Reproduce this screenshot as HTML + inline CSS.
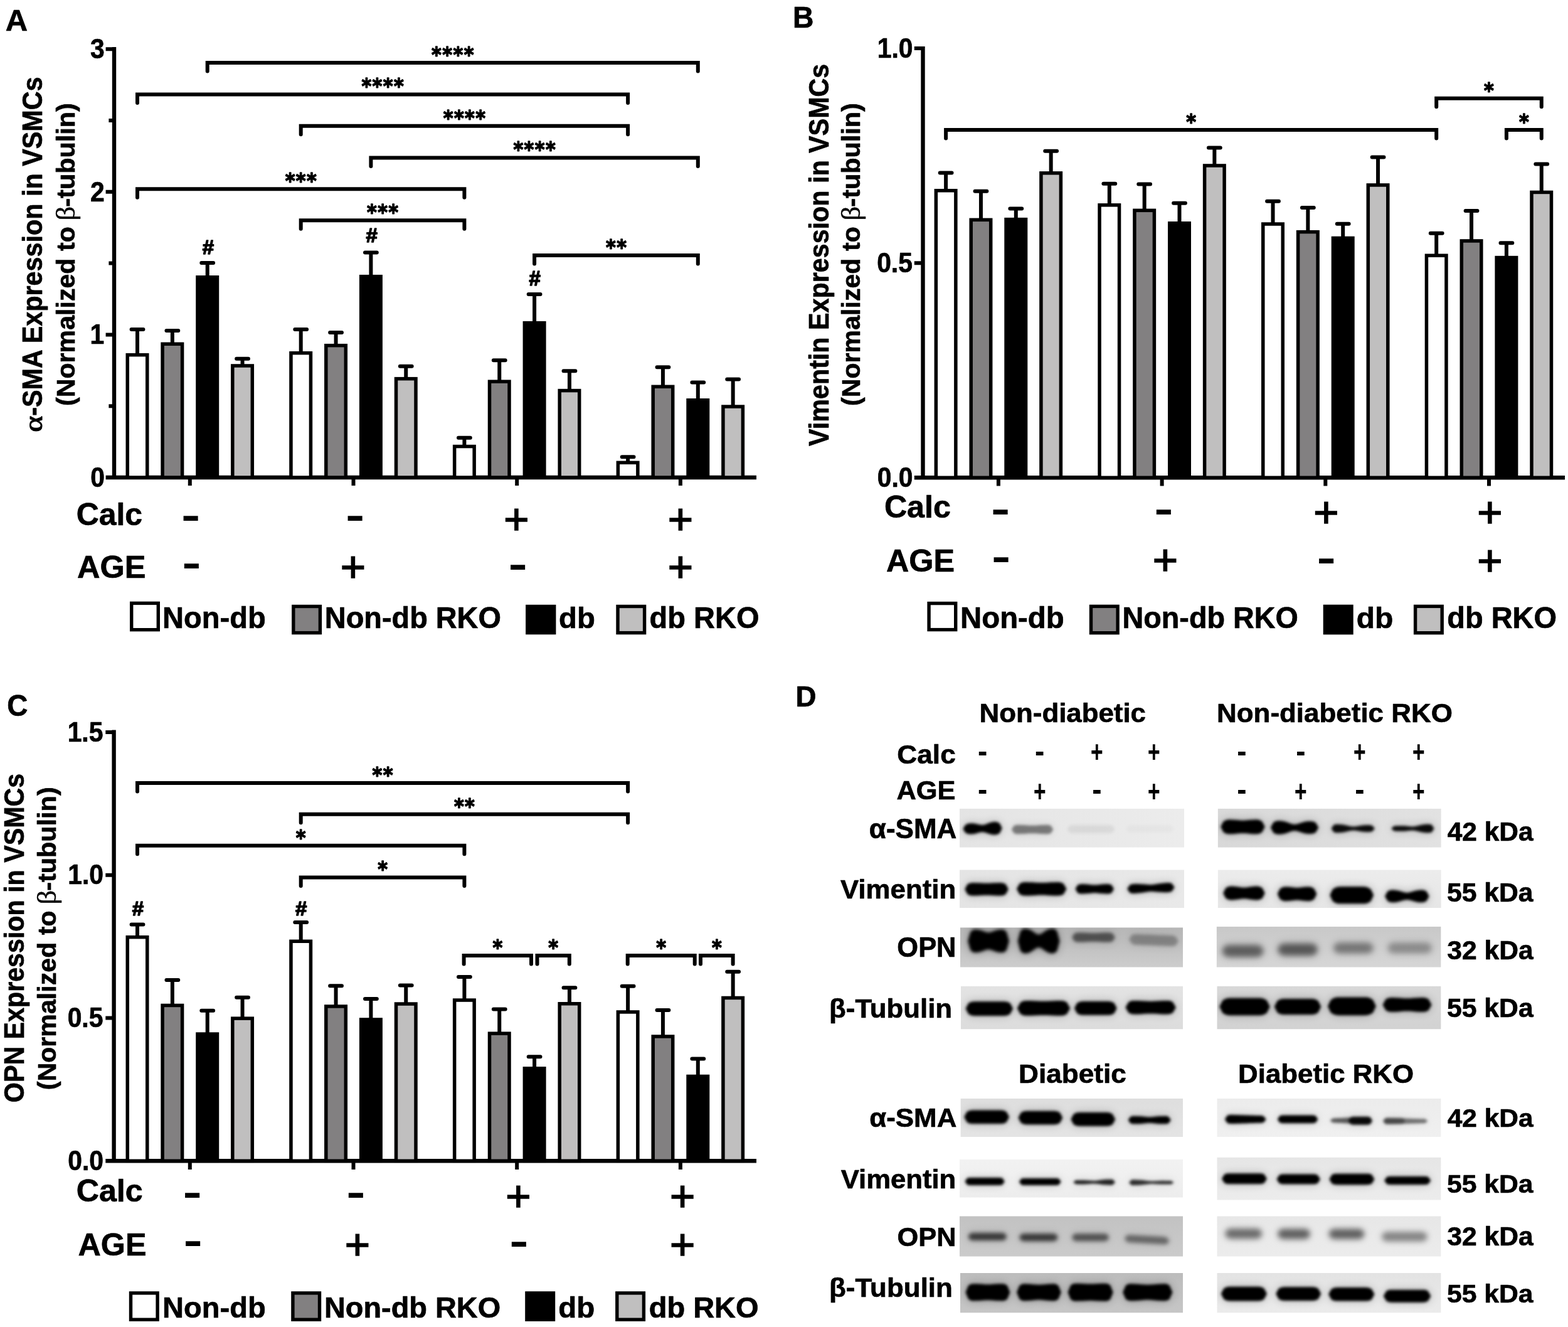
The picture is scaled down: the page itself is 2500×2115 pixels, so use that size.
<!DOCTYPE html>
<html lang="en">
<head>
<meta charset="utf-8">
<title>Figure: α-SMA, Vimentin and OPN expression in VSMCs</title>
<style>
html,body{margin:0;padding:0;background:#fff}
body{width:2500px;height:2115px;overflow:hidden;font-family:"Liberation Sans",sans-serif}
svg{display:block}
text{fill:#000}
</style>
</head>
<body>
<svg width="2500" height="2115" viewBox="0 0 2500 2115">
<defs>
<filter id="b20" x="-10%" y="-60%" width="120%" height="220%"><feGaussianBlur stdDeviation="2"/></filter>
<filter id="b24" x="-10%" y="-60%" width="120%" height="220%"><feGaussianBlur stdDeviation="2.4"/></filter>
<filter id="b30" x="-10%" y="-60%" width="120%" height="220%"><feGaussianBlur stdDeviation="3"/></filter>
<filter id="b40" x="-10%" y="-60%" width="120%" height="220%"><feGaussianBlur stdDeviation="4"/></filter>
<filter id="bh" x="-10%" y="-100%" width="120%" height="300%"><feGaussianBlur stdDeviation="7"/></filter>
<linearGradient id="g0" x1="0" y1="0" x2="1" y2="0"><stop offset="0" stop-color="#e4e4e4"/><stop offset="1" stop-color="#ececec"/></linearGradient><clipPath id="c0"><rect x="1530" y="1288.7" width="358" height="62.1"/></clipPath><linearGradient id="g1" x1="0" y1="0" x2="1" y2="0"><stop offset="0" stop-color="#e4e4e4"/><stop offset="1" stop-color="#e9e9e9"/></linearGradient><clipPath id="c1"><rect x="1530" y="1386.3" width="358" height="60.9"/></clipPath><linearGradient id="g2" x1="0" y1="0" x2="0" y2="1"><stop offset="0" stop-color="#b6b6b6"/><stop offset="1" stop-color="#cdcdcd"/></linearGradient><clipPath id="c2"><rect x="1531" y="1478.2" width="355.1" height="63.5"/></clipPath><linearGradient id="g3" x1="0" y1="0" x2="0" y2="1"><stop offset="0" stop-color="#e3e3e3"/><stop offset="1" stop-color="#dcdcdc"/></linearGradient><clipPath id="c3"><rect x="1531.9" y="1571.7" width="354.2" height="68.8"/></clipPath><linearGradient id="g4" x1="0" y1="0" x2="1" y2="0"><stop offset="0" stop-color="#d8d8d8"/><stop offset="1" stop-color="#e2e2e2"/></linearGradient><clipPath id="c4"><rect x="1941.6" y="1288.7" width="356.2" height="62.1"/></clipPath><linearGradient id="g5" x1="0" y1="0" x2="0" y2="1"><stop offset="0" stop-color="#ececec"/><stop offset="1" stop-color="#e6e6e6"/></linearGradient><clipPath id="c5"><rect x="1941.6" y="1386.3" width="356.2" height="60.9"/></clipPath><linearGradient id="g6" x1="0" y1="0" x2="0" y2="1"><stop offset="0" stop-color="#c8c8c8"/><stop offset="1" stop-color="#d6d6d6"/></linearGradient><clipPath id="c6"><rect x="1939.6" y="1476.7" width="358" height="65"/></clipPath><linearGradient id="g7" x1="0" y1="0" x2="0" y2="1"><stop offset="0" stop-color="#d8d8d8"/><stop offset="1" stop-color="#d2d2d2"/></linearGradient><clipPath id="c7"><rect x="1940.3" y="1571.7" width="357.3" height="68.8"/></clipPath><linearGradient id="g8" x1="0" y1="0" x2="0" y2="1"><stop offset="0" stop-color="#dedede"/><stop offset="1" stop-color="#e4e4e4"/></linearGradient><clipPath id="c8"><rect x="1531.4" y="1750.8" width="354.7" height="61.2"/></clipPath><linearGradient id="g9" x1="0" y1="0" x2="0" y2="1"><stop offset="0" stop-color="#f2f2f2"/><stop offset="1" stop-color="#ededed"/></linearGradient><clipPath id="c9"><rect x="1529.9" y="1847.7" width="356.2" height="61"/></clipPath><linearGradient id="g10" x1="0" y1="0" x2="0" y2="1"><stop offset="0" stop-color="#c2c2c2"/><stop offset="1" stop-color="#cbcbcb"/></linearGradient><clipPath id="c10"><rect x="1529.9" y="1938.3" width="356.2" height="64.4"/></clipPath><linearGradient id="g11" x1="0" y1="0" x2="0" y2="1"><stop offset="0" stop-color="#bcbcbc"/><stop offset="1" stop-color="#c6c6c6"/></linearGradient><clipPath id="c11"><rect x="1530.9" y="2029" width="355.2" height="63.5"/></clipPath><linearGradient id="g12" x1="0" y1="0" x2="0" y2="1"><stop offset="0" stop-color="#ececec"/><stop offset="1" stop-color="#f0f0f0"/></linearGradient><clipPath id="c12"><rect x="1940.3" y="1750.8" width="357.3" height="61.2"/></clipPath><linearGradient id="g13" x1="0" y1="0" x2="0" y2="1"><stop offset="0" stop-color="#e6e6e6"/><stop offset="1" stop-color="#ececec"/></linearGradient><clipPath id="c13"><rect x="1940.3" y="1844.6" width="357.3" height="68.1"/></clipPath><linearGradient id="g14" x1="0" y1="0" x2="0" y2="1"><stop offset="0" stop-color="#e7e7e7"/><stop offset="1" stop-color="#ececec"/></linearGradient><clipPath id="c14"><rect x="1940.3" y="1938.3" width="357.3" height="64.4"/></clipPath><linearGradient id="g15" x1="0" y1="0" x2="0" y2="1"><stop offset="0" stop-color="#e3e3e3"/><stop offset="1" stop-color="#ebebeb"/></linearGradient><clipPath id="c15"><rect x="1940.3" y="2029" width="357.3" height="63.5"/></clipPath></defs>

<rect width="2500" height="2115" fill="#fff"/>
<text transform="translate(8.64,48.73) scale(0.4902,0.4838)" font-size="100" font-family="Liberation Sans, sans-serif" font-weight="bold" stroke="#000" stroke-width="1.44" stroke-linejoin="round">A</text>
<text transform="translate(67.19,688.7) rotate(-90) scale(0.4965,0.4083)" font-size="100" font-family="Liberation Serif, serif" stroke="#000" stroke-width="2.67" stroke-linejoin="round">α</text>
<text transform="translate(67.45,662.86) rotate(-90) scale(0.4134,0.4348)" font-size="100" font-family="Liberation Sans, sans-serif" font-weight="bold" stroke="#000" stroke-width="1.65" stroke-linejoin="round">-SMA Expression in VSMCs</text>
<text transform="translate(118.65,647.01) rotate(-90) scale(0.4115,0.4157)" font-size="100" font-family="Liberation Sans, sans-serif" font-weight="bold" stroke="#000" stroke-width="1.69" stroke-linejoin="round">(Normalized to</text>
<text transform="translate(118.88,351.65) rotate(-90) scale(0.4505,0.4176)" font-size="100" font-family="Liberation Serif, serif" stroke="#000" stroke-width="1.15" stroke-linejoin="round">β</text>
<text transform="translate(118.65,329.67) rotate(-90) scale(0.4142,0.4157)" font-size="100" font-family="Liberation Sans, sans-serif" font-weight="bold" stroke="#000" stroke-width="1.69" stroke-linejoin="round">-tubulin)</text>
<path d="M182 74.9V764.2M168.6 761H1206" stroke="#000" stroke-width="6.4" fill="none"/>
<path d="M168.6 533.38H182M168.6 305.77H182M168.6 78.15H182M173.4 647.19H182M173.4 419.57H182M173.4 191.96H182M302.8 761V774M563.5 761V774M824.2 761V774M1084.9 761V774" stroke="#000" stroke-width="6" fill="none"/>
<text transform="translate(144.13,775.78) scale(0.408,0.44)" font-size="100" font-family="Liberation Sans, sans-serif" font-weight="bold" stroke="#000" stroke-width="1.65" stroke-linejoin="round">0</text>
<text transform="translate(143.6,548.16) scale(0.408,0.44)" font-size="100" font-family="Liberation Sans, sans-serif" font-weight="bold" stroke="#000" stroke-width="1.65" stroke-linejoin="round">1</text>
<text transform="translate(144.09,320.55) scale(0.408,0.44)" font-size="100" font-family="Liberation Sans, sans-serif" font-weight="bold" stroke="#000" stroke-width="1.65" stroke-linejoin="round">2</text>
<text transform="translate(143.93,92.93) scale(0.408,0.44)" font-size="100" font-family="Liberation Sans, sans-serif" font-weight="bold" stroke="#000" stroke-width="1.65" stroke-linejoin="round">3</text>
<rect x="203.25" y="565.65" width="31.5" height="195.35" fill="#ffffff" stroke="#000" stroke-width="5.5"/>
<rect x="259.1" y="548.25" width="31.5" height="212.75" fill="#828081" stroke="#000" stroke-width="5.5"/>
<rect x="314.95" y="441.75" width="31.5" height="319.25" fill="#000000" stroke="#000" stroke-width="5.5"/>
<rect x="370.8" y="582.95" width="31.5" height="178.05" fill="#c0bfbf" stroke="#000" stroke-width="5.5"/>
<rect x="463.95" y="562.65" width="31.5" height="198.35" fill="#ffffff" stroke="#000" stroke-width="5.5"/>
<rect x="519.8" y="550.65" width="31.5" height="210.35" fill="#828081" stroke="#000" stroke-width="5.5"/>
<rect x="575.65" y="440.65" width="31.5" height="320.35" fill="#000000" stroke="#000" stroke-width="5.5"/>
<rect x="631.5" y="603.65" width="31.5" height="157.35" fill="#c0bfbf" stroke="#000" stroke-width="5.5"/>
<rect x="724.65" y="711.55" width="31.5" height="49.45" fill="#ffffff" stroke="#000" stroke-width="5.5"/>
<rect x="780.5" y="608.15" width="31.5" height="152.85" fill="#828081" stroke="#000" stroke-width="5.5"/>
<rect x="836.35" y="514.65" width="31.5" height="246.35" fill="#000000" stroke="#000" stroke-width="5.5"/>
<rect x="892.2" y="622.55" width="31.5" height="138.45" fill="#c0bfbf" stroke="#000" stroke-width="5.5"/>
<rect x="985.35" y="737.35" width="31.5" height="23.65" fill="#ffffff" stroke="#000" stroke-width="5.5"/>
<rect x="1041.2" y="616.25" width="31.5" height="144.75" fill="#828081" stroke="#000" stroke-width="5.5"/>
<rect x="1097.05" y="637.75" width="31.5" height="123.25" fill="#000000" stroke="#000" stroke-width="5.5"/>
<rect x="1152.9" y="648.05" width="31.5" height="112.95" fill="#c0bfbf" stroke="#000" stroke-width="5.5"/>
<path d="M219 563.9V525M209.6 525H228.4M274.85 546.5V526.9M265.45 526.9H284.25M330.7 440V419M321.3 419H340.1M386.55 581.2V571.8M377.15 571.8H395.95M479.7 560.9V525M470.3 525H489.1M535.55 548.9V529.9M526.15 529.9H544.95M591.4 438.9V402.5M582 402.5H600.8M647.25 601.9V583.8M637.85 583.8H656.65M740.4 709.8V697.7M731 697.7H749.8M796.25 606.4V574.2M786.85 574.2H805.65M852.1 512.9V469M842.7 469H861.5M907.95 620.8V591.3M898.55 591.3H917.35M1001.1 735.6V728.3M991.7 728.3H1010.5M1056.95 614.5V585.3M1047.55 585.3H1066.35M1112.8 636V609.6M1103.4 609.6H1122.2M1168.65 646.3V604.5M1159.25 604.5H1178.05" stroke="#000" stroke-width="6" stroke-linecap="round" fill="none"/>
<path d="M330.7 113.6V100.1H1112.8V113.6M219 163.9V150.4H1001.1V163.9M479.7 214.3V200.8H1001.1V214.3M591.4 264.9V251.4H1112.8V264.9M219 314.7V301.2H740.4V314.7M479.7 364.8V351.3H740.4V364.8M852.1 420.5V407H1112.8V420.5" stroke="#000" stroke-width="6" stroke-linecap="round" stroke-linejoin="miter" fill="none"/>
<text transform="translate(688.09,99) scale(0.302,0.3321)" font-size="100" font-family="DejaVu Sans, sans-serif" font-weight="bold" stroke="#000" stroke-width="4.42" stroke-linejoin="round" letter-spacing="4.6">****</text>
<text transform="translate(576.39,149.3) scale(0.302,0.3321)" font-size="100" font-family="DejaVu Sans, sans-serif" font-weight="bold" stroke="#000" stroke-width="4.42" stroke-linejoin="round" letter-spacing="4.6">****</text>
<text transform="translate(706.74,199.7) scale(0.302,0.3321)" font-size="100" font-family="DejaVu Sans, sans-serif" font-weight="bold" stroke="#000" stroke-width="4.42" stroke-linejoin="round" letter-spacing="4.6">****</text>
<text transform="translate(818.44,250.3) scale(0.302,0.3321)" font-size="100" font-family="DejaVu Sans, sans-serif" font-weight="bold" stroke="#000" stroke-width="4.42" stroke-linejoin="round" letter-spacing="4.6">****</text>
<text transform="translate(454.63,300.1) scale(0.302,0.3321)" font-size="100" font-family="DejaVu Sans, sans-serif" font-weight="bold" stroke="#000" stroke-width="4.42" stroke-linejoin="round" letter-spacing="4.6">***</text>
<text transform="translate(584.98,350.2) scale(0.302,0.3321)" font-size="100" font-family="DejaVu Sans, sans-serif" font-weight="bold" stroke="#000" stroke-width="4.42" stroke-linejoin="round" letter-spacing="4.6">***</text>
<text transform="translate(965.96,405.9) scale(0.302,0.3321)" font-size="100" font-family="DejaVu Sans, sans-serif" font-weight="bold" stroke="#000" stroke-width="4.42" stroke-linejoin="round" letter-spacing="4.6">**</text>
<text transform="translate(322.81,404.67) scale(0.33,0.3198)" font-size="100" font-family="Liberation Sans, sans-serif" font-weight="bold" stroke="#000" stroke-width="4.62" stroke-linejoin="round">#</text>
<text transform="translate(583.51,386.47) scale(0.33,0.3183)" font-size="100" font-family="Liberation Sans, sans-serif" font-weight="bold" stroke="#000" stroke-width="4.63" stroke-linejoin="round">#</text>
<text transform="translate(843.41,455.37) scale(0.33,0.3241)" font-size="100" font-family="Liberation Sans, sans-serif" font-weight="bold" stroke="#000" stroke-width="4.59" stroke-linejoin="round">#</text>
<text transform="translate(121.7,836.95) scale(0.4987,0.498)" font-size="100" font-family="Liberation Sans, sans-serif" font-weight="bold" stroke="#000" stroke-width="1.4" stroke-linejoin="round">Calc</text>
<text transform="translate(122.99,921.36) scale(0.5059,0.493)" font-size="100" font-family="Liberation Sans, sans-serif" font-weight="bold" stroke="#000" stroke-width="1.4" stroke-linejoin="round">AGE</text>
<text transform="translate(289,843.08) scale(0.91,0.655)" font-size="100" font-family="Liberation Sans, sans-serif" font-weight="bold">-</text>
<text transform="translate(290.3,919.33) scale(0.91,0.655)" font-size="100" font-family="Liberation Sans, sans-serif" font-weight="bold">-</text>
<text transform="translate(551,843.08) scale(0.91,0.655)" font-size="100" font-family="Liberation Sans, sans-serif" font-weight="bold">-</text>
<text transform="translate(542.67,926.96) scale(0.69,0.69)" font-size="100" font-family="Liberation Sans, sans-serif" stroke-linejoin="miter" stroke="#000" stroke-width="2.42">+</text>
<text transform="translate(803.27,850.86) scale(0.69,0.69)" font-size="100" font-family="Liberation Sans, sans-serif" stroke-linejoin="miter" stroke="#000" stroke-width="2.42">+</text>
<text transform="translate(810.4,921.23) scale(0.91,0.655)" font-size="100" font-family="Liberation Sans, sans-serif" font-weight="bold">-</text>
<text transform="translate(1064.87,850.86) scale(0.69,0.69)" font-size="100" font-family="Liberation Sans, sans-serif" stroke-linejoin="miter" stroke="#000" stroke-width="2.42">+</text>
<text transform="translate(1064.87,927.16) scale(0.69,0.69)" font-size="100" font-family="Liberation Sans, sans-serif" stroke-linejoin="miter" stroke="#000" stroke-width="2.42">+</text>
<rect x="209.7" y="961.4" width="42.6" height="42.3" fill="#ffffff" stroke="#000" stroke-width="5.4"/>
<rect x="467.8" y="966.5" width="42.6" height="42.1" fill="#828081" stroke="#000" stroke-width="5.4"/>
<rect x="840.8" y="966.5" width="42.9" height="42.1" fill="#000000" stroke="#000" stroke-width="5.4"/>
<rect x="985" y="966.5" width="42.6" height="42.1" fill="#c0bfbf" stroke="#000" stroke-width="5.4"/>
<text transform="translate(259.1,1000.95) scale(0.4708,0.4747)" font-size="100" font-family="Liberation Sans, sans-serif" font-weight="bold" stroke="#000" stroke-width="1.48" stroke-linejoin="round">Non-db</text>
<text transform="translate(517.81,1000.95) scale(0.4688,0.4747)" font-size="100" font-family="Liberation Sans, sans-serif" font-weight="bold" stroke="#000" stroke-width="1.48" stroke-linejoin="round">Non-db RKO</text>
<text transform="translate(891.11,1000.98) scale(0.472,0.4667)" font-size="100" font-family="Liberation Sans, sans-serif" font-weight="bold" stroke="#000" stroke-width="1.49" stroke-linejoin="round">db</text>
<text transform="translate(1035.61,1000.95) scale(0.47,0.4747)" font-size="100" font-family="Liberation Sans, sans-serif" font-weight="bold" stroke="#000" stroke-width="1.48" stroke-linejoin="round">db RKO</text>
<text transform="translate(1263.95,44.35) scale(0.4625,0.4783)" font-size="100" font-family="Liberation Sans, sans-serif" font-weight="bold" stroke="#000" stroke-width="1.49" stroke-linejoin="round">B</text>
<text transform="translate(1320.75,710.97) rotate(-90) scale(0.4128,0.4362)" font-size="100" font-family="Liberation Sans, sans-serif" font-weight="bold" stroke="#000" stroke-width="1.65" stroke-linejoin="round">Vimentin Expression in VSMCs</text>
<text transform="translate(1370.85,647.01) rotate(-90) scale(0.4115,0.4157)" font-size="100" font-family="Liberation Sans, sans-serif" font-weight="bold" stroke="#000" stroke-width="1.69" stroke-linejoin="round">(Normalized to</text>
<text transform="translate(1371.08,351.65) rotate(-90) scale(0.4505,0.4176)" font-size="100" font-family="Liberation Serif, serif" stroke="#000" stroke-width="1.15" stroke-linejoin="round">β</text>
<text transform="translate(1370.85,329.67) rotate(-90) scale(0.4142,0.4157)" font-size="100" font-family="Liberation Sans, sans-serif" font-weight="bold" stroke="#000" stroke-width="1.69" stroke-linejoin="round">-tubulin)</text>
<path d="M1471.5 74V764.5M1457.8 761.3H2495" stroke="#000" stroke-width="6.4" fill="none"/>
<path d="M1457.8 419.2H1471.5M1457.8 77.1H1471.5M1591.9 761.3V774.5M1852.6 761.3V774.5M2113.3 761.3V774.5M2374 761.3V774.5" stroke="#000" stroke-width="6" fill="none"/>
<text transform="translate(1398.72,776.08) scale(0.408,0.44)" font-size="100" font-family="Liberation Sans, sans-serif" font-weight="bold" stroke="#000" stroke-width="1.65" stroke-linejoin="round">0.0</text>
<text transform="translate(1398.18,433.98) scale(0.408,0.44)" font-size="100" font-family="Liberation Sans, sans-serif" font-weight="bold" stroke="#000" stroke-width="1.65" stroke-linejoin="round">0.5</text>
<text transform="translate(1398.72,91.88) scale(0.408,0.44)" font-size="100" font-family="Liberation Sans, sans-serif" font-weight="bold" stroke="#000" stroke-width="1.65" stroke-linejoin="round">1.0</text>
<rect x="1492.35" y="303.75" width="31.5" height="457.55" fill="#ffffff" stroke="#000" stroke-width="5.5"/>
<rect x="1548.2" y="350.35" width="31.5" height="410.95" fill="#828081" stroke="#000" stroke-width="5.5"/>
<rect x="1604.05" y="349.65" width="31.5" height="411.65" fill="#000000" stroke="#000" stroke-width="5.5"/>
<rect x="1659.9" y="275.85" width="31.5" height="485.45" fill="#c0bfbf" stroke="#000" stroke-width="5.5"/>
<rect x="1753.05" y="326.85" width="31.5" height="434.45" fill="#ffffff" stroke="#000" stroke-width="5.5"/>
<rect x="1808.9" y="335.35" width="31.5" height="425.95" fill="#828081" stroke="#000" stroke-width="5.5"/>
<rect x="1864.75" y="355.75" width="31.5" height="405.55" fill="#000000" stroke="#000" stroke-width="5.5"/>
<rect x="1920.6" y="263.95" width="31.5" height="497.35" fill="#c0bfbf" stroke="#000" stroke-width="5.5"/>
<rect x="2013.75" y="357.05" width="31.5" height="404.25" fill="#ffffff" stroke="#000" stroke-width="5.5"/>
<rect x="2069.6" y="369.65" width="31.5" height="391.65" fill="#828081" stroke="#000" stroke-width="5.5"/>
<rect x="2125.45" y="379.45" width="31.5" height="381.85" fill="#000000" stroke="#000" stroke-width="5.5"/>
<rect x="2181.3" y="294.95" width="31.5" height="466.35" fill="#c0bfbf" stroke="#000" stroke-width="5.5"/>
<rect x="2274.45" y="407.25" width="31.5" height="354.05" fill="#ffffff" stroke="#000" stroke-width="5.5"/>
<rect x="2330.3" y="383.95" width="31.5" height="377.35" fill="#828081" stroke="#000" stroke-width="5.5"/>
<rect x="2386.15" y="410.55" width="31.5" height="350.75" fill="#000000" stroke="#000" stroke-width="5.5"/>
<rect x="2442" y="306.45" width="31.5" height="454.85" fill="#c0bfbf" stroke="#000" stroke-width="5.5"/>
<path d="M1508.1 302V275.5M1498.7 275.5H1517.5M1563.95 348.6V304.7M1554.55 304.7H1573.35M1619.8 347.9V332.6M1610.4 332.6H1629.2M1675.65 274.1V240.8M1666.25 240.8H1685.05M1768.8 325.1V292.8M1759.4 292.8H1778.2M1824.65 333.6V293.5M1815.25 293.5H1834.05M1880.5 354V323.8M1871.1 323.8H1889.9M1936.35 262.2V235.4M1926.95 235.4H1945.75M2029.5 355.3V320.8M2020.1 320.8H2038.9M2085.35 367.9V331M2075.95 331H2094.75M2141.2 377.7V356.7M2131.8 356.7H2150.6M2197.05 293.2V250.6M2187.65 250.6H2206.45M2290.2 405.5V371.8M2280.8 371.8H2299.6M2346.05 382.2V335.9M2336.65 335.9H2355.45M2401.9 408.8V387.3M2392.5 387.3H2411.3M2457.75 304.7V261.6M2448.35 261.6H2467.15" stroke="#000" stroke-width="6" stroke-linecap="round" fill="none"/>
<path d="M1508.1 220.4V206.9H2290.2V220.4M2290.2 170.2V156.7H2457.75V170.2M2401.9 220.4V206.9H2457.75V220.4" stroke="#000" stroke-width="6" stroke-linecap="round" stroke-linejoin="miter" fill="none"/>
<text transform="translate(1891.25,205.8) scale(0.302,0.3321)" font-size="100" font-family="DejaVu Sans, sans-serif" font-weight="bold" stroke="#000" stroke-width="4.42" stroke-linejoin="round" letter-spacing="4.6">*</text>
<text transform="translate(2366.08,155.6) scale(0.302,0.3321)" font-size="100" font-family="DejaVu Sans, sans-serif" font-weight="bold" stroke="#000" stroke-width="4.42" stroke-linejoin="round" letter-spacing="4.6">*</text>
<text transform="translate(2421.93,205.8) scale(0.302,0.3321)" font-size="100" font-family="DejaVu Sans, sans-serif" font-weight="bold" stroke="#000" stroke-width="4.42" stroke-linejoin="round" letter-spacing="4.6">*</text>
<text transform="translate(1409.89,825.16) scale(0.5017,0.4939)" font-size="100" font-family="Liberation Sans, sans-serif" font-weight="bold" stroke="#000" stroke-width="1.41" stroke-linejoin="round">Calc</text>
<text transform="translate(1413,911.35) scale(0.5031,0.5014)" font-size="100" font-family="Liberation Sans, sans-serif" font-weight="bold" stroke="#000" stroke-width="1.39" stroke-linejoin="round">AGE</text>
<text transform="translate(1580.1,832.53) scale(0.91,0.655)" font-size="100" font-family="Liberation Sans, sans-serif" font-weight="bold">-</text>
<text transform="translate(1581,908.73) scale(0.91,0.655)" font-size="100" font-family="Liberation Sans, sans-serif" font-weight="bold">-</text>
<text transform="translate(1840.3,832.53) scale(0.91,0.655)" font-size="100" font-family="Liberation Sans, sans-serif" font-weight="bold">-</text>
<text transform="translate(1837.77,916.36) scale(0.69,0.69)" font-size="100" font-family="Liberation Sans, sans-serif" stroke-linejoin="miter" stroke="#000" stroke-width="2.42">+</text>
<text transform="translate(2094.37,840.16) scale(0.69,0.69)" font-size="100" font-family="Liberation Sans, sans-serif" stroke-linejoin="miter" stroke="#000" stroke-width="2.42">+</text>
<text transform="translate(2099.4,910.53) scale(0.91,0.655)" font-size="100" font-family="Liberation Sans, sans-serif" font-weight="bold">-</text>
<text transform="translate(2355.17,840.16) scale(0.69,0.69)" font-size="100" font-family="Liberation Sans, sans-serif" stroke-linejoin="miter" stroke="#000" stroke-width="2.42">+</text>
<text transform="translate(2355.17,916.56) scale(0.69,0.69)" font-size="100" font-family="Liberation Sans, sans-serif" stroke-linejoin="miter" stroke="#000" stroke-width="2.42">+</text>
<rect x="1481.1" y="961.6" width="42.6" height="42" fill="#ffffff" stroke="#000" stroke-width="5.4"/>
<rect x="1739.5" y="966.4" width="42.6" height="42.3" fill="#828081" stroke="#000" stroke-width="5.4"/>
<rect x="2112.4" y="966.4" width="42.6" height="42.3" fill="#000000" stroke="#000" stroke-width="5.4"/>
<rect x="2256.6" y="966.4" width="42.6" height="42.3" fill="#c0bfbf" stroke="#000" stroke-width="5.4"/>
<text transform="translate(1531.08,1001.45) scale(0.4734,0.4747)" font-size="100" font-family="Liberation Sans, sans-serif" font-weight="bold" stroke="#000" stroke-width="1.48" stroke-linejoin="round">Non-db</text>
<text transform="translate(1789.52,1001.45) scale(0.4674,0.4747)" font-size="100" font-family="Liberation Sans, sans-serif" font-weight="bold" stroke="#000" stroke-width="1.49" stroke-linejoin="round">Non-db RKO</text>
<text transform="translate(2162.67,1001.48) scale(0.4799,0.4667)" font-size="100" font-family="Liberation Sans, sans-serif" font-weight="bold" stroke="#000" stroke-width="1.48" stroke-linejoin="round">db</text>
<text transform="translate(2307.21,1001.45) scale(0.47,0.4747)" font-size="100" font-family="Liberation Sans, sans-serif" font-weight="bold" stroke="#000" stroke-width="1.48" stroke-linejoin="round">db RKO</text>
<text transform="translate(11.36,1140.77) scale(0.4588,0.4845)" font-size="100" font-family="Liberation Sans, sans-serif" font-weight="bold" stroke="#000" stroke-width="1.48" stroke-linejoin="round">C</text>
<text transform="translate(38.05,1757.15) rotate(-90) scale(0.4121,0.4507)" font-size="100" font-family="Liberation Sans, sans-serif" font-weight="bold" stroke="#000" stroke-width="1.62" stroke-linejoin="round">OPN Expression in VSMCs</text>
<text transform="translate(88.75,1737.21) rotate(-90) scale(0.4115,0.4157)" font-size="100" font-family="Liberation Sans, sans-serif" font-weight="bold" stroke="#000" stroke-width="1.69" stroke-linejoin="round">(Normalized to</text>
<text transform="translate(88.98,1441.85) rotate(-90) scale(0.4505,0.4176)" font-size="100" font-family="Liberation Serif, serif" stroke="#000" stroke-width="1.15" stroke-linejoin="round">β</text>
<text transform="translate(88.75,1419.87) rotate(-90) scale(0.4142,0.4157)" font-size="100" font-family="Liberation Sans, sans-serif" font-weight="bold" stroke="#000" stroke-width="1.69" stroke-linejoin="round">-tubulin)</text>
<path d="M181.6 1163.6V1853.5M168.3 1850.3H1206" stroke="#000" stroke-width="6.4" fill="none"/>
<path d="M168.3 1622.5H181.6M168.3 1394.7H181.6M168.3 1166.9H181.6M302.8 1850.3V1864M563.5 1850.3V1864M824.2 1850.3V1864M1084.9 1850.3V1864" stroke="#000" stroke-width="6" fill="none"/>
<text transform="translate(108.22,1865.08) scale(0.408,0.44)" font-size="100" font-family="Liberation Sans, sans-serif" font-weight="bold" stroke="#000" stroke-width="1.65" stroke-linejoin="round">0.0</text>
<text transform="translate(107.68,1637.28) scale(0.408,0.44)" font-size="100" font-family="Liberation Sans, sans-serif" font-weight="bold" stroke="#000" stroke-width="1.65" stroke-linejoin="round">0.5</text>
<text transform="translate(108.22,1409.48) scale(0.408,0.44)" font-size="100" font-family="Liberation Sans, sans-serif" font-weight="bold" stroke="#000" stroke-width="1.65" stroke-linejoin="round">1.0</text>
<text transform="translate(107.68,1181.68) scale(0.408,0.44)" font-size="100" font-family="Liberation Sans, sans-serif" font-weight="bold" stroke="#000" stroke-width="1.65" stroke-linejoin="round">1.5</text>
<rect x="203.25" y="1493.65" width="31.5" height="356.65" fill="#ffffff" stroke="#000" stroke-width="5.5"/>
<rect x="259.1" y="1602.45" width="31.5" height="247.85" fill="#828081" stroke="#000" stroke-width="5.5"/>
<rect x="314.95" y="1648.05" width="31.5" height="202.25" fill="#000000" stroke="#000" stroke-width="5.5"/>
<rect x="370.8" y="1623.15" width="31.5" height="227.15" fill="#c0bfbf" stroke="#000" stroke-width="5.5"/>
<rect x="463.95" y="1500.25" width="31.5" height="350.05" fill="#ffffff" stroke="#000" stroke-width="5.5"/>
<rect x="519.8" y="1603.95" width="31.5" height="246.35" fill="#828081" stroke="#000" stroke-width="5.5"/>
<rect x="575.65" y="1624.95" width="31.5" height="225.35" fill="#000000" stroke="#000" stroke-width="5.5"/>
<rect x="631.5" y="1600.05" width="31.5" height="250.25" fill="#c0bfbf" stroke="#000" stroke-width="5.5"/>
<rect x="724.65" y="1594.05" width="31.5" height="256.25" fill="#ffffff" stroke="#000" stroke-width="5.5"/>
<rect x="780.5" y="1647.15" width="31.5" height="203.15" fill="#828081" stroke="#000" stroke-width="5.5"/>
<rect x="836.35" y="1702.85" width="31.5" height="147.45" fill="#000000" stroke="#000" stroke-width="5.5"/>
<rect x="892.2" y="1599.75" width="31.5" height="250.55" fill="#c0bfbf" stroke="#000" stroke-width="5.5"/>
<rect x="985.35" y="1612.95" width="31.5" height="237.35" fill="#ffffff" stroke="#000" stroke-width="5.5"/>
<rect x="1041.2" y="1651.95" width="31.5" height="198.35" fill="#828081" stroke="#000" stroke-width="5.5"/>
<rect x="1097.05" y="1715.45" width="31.5" height="134.85" fill="#000000" stroke="#000" stroke-width="5.5"/>
<rect x="1152.9" y="1590.45" width="31.5" height="259.85" fill="#c0bfbf" stroke="#000" stroke-width="5.5"/>
<path d="M219 1491.9V1473.5M209.6 1473.5H228.4M274.85 1600.7V1562M265.45 1562H284.25M330.7 1646.3V1610.8M321.3 1610.8H340.1M386.55 1621.4V1589.8M377.15 1589.8H395.95M479.7 1498.5V1469.9M470.3 1469.9H489.1M535.55 1602.2V1571.2M526.15 1571.2H544.95M591.4 1623.2V1591.9M582 1591.9H600.8M647.25 1598.3V1570.6M637.85 1570.6H656.65M740.4 1592.3V1556.9M731 1556.9H749.8M796.25 1645.4V1608.4M786.85 1608.4H805.65M852.1 1701.1V1684.3M842.7 1684.3H861.5M907.95 1598V1574.2M898.55 1574.2H917.35M1001.1 1611.2V1571.8M991.7 1571.8H1010.5M1056.95 1650.2V1609.9M1047.55 1609.9H1066.35M1112.8 1713.7V1687.5M1103.4 1687.5H1122.2M1168.65 1588.7V1548.8M1159.25 1548.8H1178.05" stroke="#000" stroke-width="6" stroke-linecap="round" fill="none"/>
<path d="M219 1261.5V1248H1001.1V1261.5M479.7 1311.2V1297.7H1001.1V1311.2M219 1361.3V1347.8H740.4V1361.3M479.7 1411.9V1398.4H740.4V1411.9M739.6 1536.4V1522.9H847V1536.4M856.5 1536.4V1522.9H907.8V1536.4M1000.7 1536.4V1522.9H1107.7V1536.4M1117 1536.4V1522.9H1168.6V1536.4" stroke="#000" stroke-width="6" stroke-linecap="round" stroke-linejoin="miter" fill="none"/>
<text transform="translate(593.56,1246.9) scale(0.302,0.3321)" font-size="100" font-family="DejaVu Sans, sans-serif" font-weight="bold" stroke="#000" stroke-width="4.42" stroke-linejoin="round" letter-spacing="4.6">**</text>
<text transform="translate(723.91,1296.6) scale(0.302,0.3321)" font-size="100" font-family="DejaVu Sans, sans-serif" font-weight="bold" stroke="#000" stroke-width="4.42" stroke-linejoin="round" letter-spacing="4.6">**</text>
<text transform="translate(471.8,1346.7) scale(0.302,0.3321)" font-size="100" font-family="DejaVu Sans, sans-serif" font-weight="bold" stroke="#000" stroke-width="4.42" stroke-linejoin="round" letter-spacing="4.6">*</text>
<text transform="translate(602.15,1397.3) scale(0.302,0.3321)" font-size="100" font-family="DejaVu Sans, sans-serif" font-weight="bold" stroke="#000" stroke-width="4.42" stroke-linejoin="round" letter-spacing="4.6">*</text>
<text transform="translate(785.4,1521.8) scale(0.302,0.3321)" font-size="100" font-family="DejaVu Sans, sans-serif" font-weight="bold" stroke="#000" stroke-width="4.42" stroke-linejoin="round" letter-spacing="4.6">*</text>
<text transform="translate(874.25,1521.8) scale(0.302,0.3321)" font-size="100" font-family="DejaVu Sans, sans-serif" font-weight="bold" stroke="#000" stroke-width="4.42" stroke-linejoin="round" letter-spacing="4.6">*</text>
<text transform="translate(1046.3,1521.8) scale(0.302,0.3321)" font-size="100" font-family="DejaVu Sans, sans-serif" font-weight="bold" stroke="#000" stroke-width="4.42" stroke-linejoin="round" letter-spacing="4.6">*</text>
<text transform="translate(1134.9,1521.8) scale(0.302,0.3321)" font-size="100" font-family="DejaVu Sans, sans-serif" font-weight="bold" stroke="#000" stroke-width="4.42" stroke-linejoin="round" letter-spacing="4.6">*</text>
<text transform="translate(210.81,1458.67) scale(0.33,0.3168)" font-size="100" font-family="Liberation Sans, sans-serif" font-weight="bold" stroke="#000" stroke-width="4.64" stroke-linejoin="round">#</text>
<text transform="translate(471.11,1458.67) scale(0.33,0.3168)" font-size="100" font-family="Liberation Sans, sans-serif" font-weight="bold" stroke="#000" stroke-width="4.64" stroke-linejoin="round">#</text>
<text transform="translate(121.69,1915.16) scale(0.5017,0.4939)" font-size="100" font-family="Liberation Sans, sans-serif" font-weight="bold" stroke="#000" stroke-width="1.41" stroke-linejoin="round">Calc</text>
<text transform="translate(124.5,2000.75) scale(0.5031,0.5014)" font-size="100" font-family="Liberation Sans, sans-serif" font-weight="bold" stroke="#000" stroke-width="1.39" stroke-linejoin="round">AGE</text>
<text transform="translate(291.4,1921.93) scale(0.91,0.655)" font-size="100" font-family="Liberation Sans, sans-serif" font-weight="bold">-</text>
<text transform="translate(292.6,1998.73) scale(0.91,0.655)" font-size="100" font-family="Liberation Sans, sans-serif" font-weight="bold">-</text>
<text transform="translate(552.2,1921.93) scale(0.91,0.655)" font-size="100" font-family="Liberation Sans, sans-serif" font-weight="bold">-</text>
<text transform="translate(549.77,2006.56) scale(0.69,0.69)" font-size="100" font-family="Liberation Sans, sans-serif" stroke-linejoin="miter" stroke="#000" stroke-width="2.42">+</text>
<text transform="translate(806.37,1929.66) scale(0.69,0.69)" font-size="100" font-family="Liberation Sans, sans-serif" stroke-linejoin="miter" stroke="#000" stroke-width="2.42">+</text>
<text transform="translate(812.2,2000.13) scale(0.91,0.655)" font-size="100" font-family="Liberation Sans, sans-serif" font-weight="bold">-</text>
<text transform="translate(1067.97,1929.66) scale(0.69,0.69)" font-size="100" font-family="Liberation Sans, sans-serif" stroke-linejoin="miter" stroke="#000" stroke-width="2.42">+</text>
<text transform="translate(1067.97,2006.56) scale(0.69,0.69)" font-size="100" font-family="Liberation Sans, sans-serif" stroke-linejoin="miter" stroke="#000" stroke-width="2.42">+</text>
<rect x="208.5" y="2060.9" width="42.6" height="42.3" fill="#ffffff" stroke="#000" stroke-width="5.4"/>
<rect x="466.9" y="2060.9" width="42.6" height="42.3" fill="#828081" stroke="#000" stroke-width="5.4"/>
<rect x="839.9" y="2060.9" width="42.6" height="42.3" fill="#000000" stroke="#000" stroke-width="5.4"/>
<rect x="983.8" y="2060.9" width="42.6" height="42.3" fill="#c0bfbf" stroke="#000" stroke-width="5.4"/>
<text transform="translate(259.1,2099.85) scale(0.4708,0.4663)" font-size="100" font-family="Liberation Sans, sans-serif" font-weight="bold" stroke="#000" stroke-width="1.49" stroke-linejoin="round">Non-db</text>
<text transform="translate(516.91,2099.85) scale(0.4688,0.4663)" font-size="100" font-family="Liberation Sans, sans-serif" font-weight="bold" stroke="#000" stroke-width="1.5" stroke-linejoin="round">Non-db RKO</text>
<text transform="translate(890.2,2099.89) scale(0.4746,0.4585)" font-size="100" font-family="Liberation Sans, sans-serif" font-weight="bold" stroke="#000" stroke-width="1.5" stroke-linejoin="round">db</text>
<text transform="translate(1034.71,2099.85) scale(0.47,0.4663)" font-size="100" font-family="Liberation Sans, sans-serif" font-weight="bold" stroke="#000" stroke-width="1.5" stroke-linejoin="round">db RKO</text>
<text transform="translate(1268.49,1126.45) scale(0.4567,0.4652)" font-size="100" font-family="Liberation Sans, sans-serif" font-weight="bold" stroke="#000" stroke-width="1.52" stroke-linejoin="round">D</text>
<text transform="translate(1561.62,1150.75) scale(0.4383,0.4199)" font-size="100" font-family="Liberation Sans, sans-serif" font-weight="bold" stroke="#000" stroke-width="1.63" stroke-linejoin="round">Non-diabetic</text>
<text transform="translate(1940.01,1150.75) scale(0.4394,0.4228)" font-size="100" font-family="Liberation Sans, sans-serif" font-weight="bold" stroke="#000" stroke-width="1.62" stroke-linejoin="round">Non-diabetic RKO</text>
<text transform="translate(1430.33,1216.83) scale(0.4424,0.4204)" font-size="100" font-family="Liberation Sans, sans-serif" font-weight="bold" stroke="#000" stroke-width="1.62" stroke-linejoin="round">Calc</text>
<text transform="translate(1429.38,1274.33) scale(0.4345,0.4239)" font-size="100" font-family="Liberation Sans, sans-serif" font-weight="bold" stroke="#000" stroke-width="1.63" stroke-linejoin="round">AGE</text>
<text transform="translate(1623.99,1726.05) scale(0.4421,0.4213)" font-size="100" font-family="Liberation Sans, sans-serif" font-weight="bold" stroke="#000" stroke-width="1.62" stroke-linejoin="round">Diabetic</text>
<text transform="translate(1974.12,1726.05) scale(0.438,0.4213)" font-size="100" font-family="Liberation Sans, sans-serif" font-weight="bold" stroke="#000" stroke-width="1.63" stroke-linejoin="round">Diabetic RKO</text>
<text transform="translate(1558.97,1213.6) scale(0.46,0.5)" font-size="100" font-family="Liberation Sans, sans-serif" font-weight="bold">-</text>
<text transform="translate(1650.07,1213.6) scale(0.46,0.5)" font-size="100" font-family="Liberation Sans, sans-serif" font-weight="bold">-</text>
<text transform="translate(1739.59,1214.37) scale(0.319,0.458)" font-size="100" font-family="Liberation Sans, sans-serif" stroke-linejoin="miter" stroke="#000" stroke-width="4.71">+</text>
<text transform="translate(1830.39,1214.37) scale(0.319,0.458)" font-size="100" font-family="Liberation Sans, sans-serif" stroke-linejoin="miter" stroke="#000" stroke-width="4.71">+</text>
<text transform="translate(1558.97,1275.3) scale(0.46,0.5)" font-size="100" font-family="Liberation Sans, sans-serif" font-weight="bold">-</text>
<text transform="translate(1648.39,1277.37) scale(0.319,0.458)" font-size="100" font-family="Liberation Sans, sans-serif" stroke-linejoin="miter" stroke="#000" stroke-width="4.71">+</text>
<text transform="translate(1741.27,1275.3) scale(0.46,0.5)" font-size="100" font-family="Liberation Sans, sans-serif" font-weight="bold">-</text>
<text transform="translate(1830.39,1277.37) scale(0.319,0.458)" font-size="100" font-family="Liberation Sans, sans-serif" stroke-linejoin="miter" stroke="#000" stroke-width="4.71">+</text>
<text transform="translate(1972.37,1213.6) scale(0.46,0.5)" font-size="100" font-family="Liberation Sans, sans-serif" font-weight="bold">-</text>
<text transform="translate(2066.17,1213.6) scale(0.46,0.5)" font-size="100" font-family="Liberation Sans, sans-serif" font-weight="bold">-</text>
<text transform="translate(2158.59,1214.37) scale(0.319,0.458)" font-size="100" font-family="Liberation Sans, sans-serif" stroke-linejoin="miter" stroke="#000" stroke-width="4.71">+</text>
<text transform="translate(2252.39,1214.37) scale(0.319,0.458)" font-size="100" font-family="Liberation Sans, sans-serif" stroke-linejoin="miter" stroke="#000" stroke-width="4.71">+</text>
<text transform="translate(1972.37,1275.3) scale(0.46,0.5)" font-size="100" font-family="Liberation Sans, sans-serif" font-weight="bold">-</text>
<text transform="translate(2064.49,1277.37) scale(0.319,0.458)" font-size="100" font-family="Liberation Sans, sans-serif" stroke-linejoin="miter" stroke="#000" stroke-width="4.71">+</text>
<text transform="translate(2160.27,1275.3) scale(0.46,0.5)" font-size="100" font-family="Liberation Sans, sans-serif" font-weight="bold">-</text>
<text transform="translate(2252.39,1277.37) scale(0.319,0.458)" font-size="100" font-family="Liberation Sans, sans-serif" stroke-linejoin="miter" stroke="#000" stroke-width="4.71">+</text>
<text transform="translate(1385.83,1335.65) scale(0.4403,0.442)" font-size="100" font-family="Liberation Sans, sans-serif" font-weight="bold" stroke="#000" stroke-width="1.59" stroke-linejoin="round">α-SMA</text>
<text transform="translate(1339.91,1432.15) scale(0.4385,0.4228)" font-size="100" font-family="Liberation Sans, sans-serif" font-weight="bold" stroke="#000" stroke-width="1.63" stroke-linejoin="round">Vimentin</text>
<text transform="translate(1430.36,1524.75) scale(0.4343,0.4377)" font-size="100" font-family="Liberation Sans, sans-serif" font-weight="bold" stroke="#000" stroke-width="1.61" stroke-linejoin="round">OPN</text>
<text transform="translate(1322.11,1621.75) scale(0.4377,0.4228)" font-size="100" font-family="Liberation Sans, sans-serif" font-weight="bold" stroke="#000" stroke-width="1.63" stroke-linejoin="round">β-Tubulin</text>
<text transform="translate(1386.23,1796.05) scale(0.439,0.4333)" font-size="100" font-family="Liberation Sans, sans-serif" font-weight="bold" stroke="#000" stroke-width="1.6" stroke-linejoin="round">α-SMA</text>
<text transform="translate(1340.71,1894.25) scale(0.4368,0.4228)" font-size="100" font-family="Liberation Sans, sans-serif" font-weight="bold" stroke="#000" stroke-width="1.63" stroke-linejoin="round">Vimentin</text>
<text transform="translate(1430.56,1985.55) scale(0.4338,0.4333)" font-size="100" font-family="Liberation Sans, sans-serif" font-weight="bold" stroke="#000" stroke-width="1.61" stroke-linejoin="round">OPN</text>
<text transform="translate(1322,2067.45) scale(0.4397,0.4199)" font-size="100" font-family="Liberation Sans, sans-serif" font-weight="bold" stroke="#000" stroke-width="1.63" stroke-linejoin="round">β-Tubulin</text>
<text transform="translate(2307.7,1340.45) scale(0.4247,0.4228)" font-size="100" font-family="Liberation Sans, sans-serif" font-weight="bold" stroke="#000" stroke-width="1.65" stroke-linejoin="round">42 kDa</text>
<text transform="translate(2306.99,1437.45) scale(0.4269,0.4171)" font-size="100" font-family="Liberation Sans, sans-serif" font-weight="bold" stroke="#000" stroke-width="1.66" stroke-linejoin="round">55 kDa</text>
<text transform="translate(2307.34,1528.65) scale(0.4259,0.4256)" font-size="100" font-family="Liberation Sans, sans-serif" font-weight="bold" stroke="#000" stroke-width="1.64" stroke-linejoin="round">32 kDa</text>
<text transform="translate(2306.99,1621.45) scale(0.4269,0.4185)" font-size="100" font-family="Liberation Sans, sans-serif" font-weight="bold" stroke="#000" stroke-width="1.66" stroke-linejoin="round">55 kDa</text>
<text transform="translate(2307.7,1796.05) scale(0.4247,0.4115)" font-size="100" font-family="Liberation Sans, sans-serif" font-weight="bold" stroke="#000" stroke-width="1.67" stroke-linejoin="round">42 kDa</text>
<text transform="translate(2306.99,1901.25) scale(0.4269,0.4115)" font-size="100" font-family="Liberation Sans, sans-serif" font-weight="bold" stroke="#000" stroke-width="1.67" stroke-linejoin="round">55 kDa</text>
<text transform="translate(2307.34,1985.15) scale(0.4259,0.4185)" font-size="100" font-family="Liberation Sans, sans-serif" font-weight="bold" stroke="#000" stroke-width="1.66" stroke-linejoin="round">32 kDa</text>
<text transform="translate(2306.99,2075.65) scale(0.4269,0.4115)" font-size="100" font-family="Liberation Sans, sans-serif" font-weight="bold" stroke="#000" stroke-width="1.67" stroke-linejoin="round">55 kDa</text>
<g clip-path="url(#c0)"><rect x="1530" y="1288.7" width="358" height="62.1" fill="url(#g0)"/><use href="#s0" filter="url(#bh)" opacity="0.22"/><g id="s0" filter="url(#b20)"><path d="M1535.3 1321L1539.2 1314.66L1543.1 1312.83L1547 1312.17L1550.9 1312.27L1554.8 1312.74L1558.7 1313.63L1562.6 1314.57L1566.5 1314.89L1570.4 1314.18L1574.3 1312.76L1578.2 1311.32L1582.1 1310.32L1586 1309.78L1589.9 1310.24L1593.8 1312.25L1597.7 1320L1597.7 1320L1593.8 1327.88L1589.9 1330.01L1586 1330.59L1582.1 1330.18L1578.2 1329.31L1574.3 1327.99L1570.4 1326.7L1566.5 1326.11L1562.6 1326.55L1558.7 1327.62L1554.8 1328.64L1550.9 1329.23L1547 1329.46L1543.1 1328.92L1539.2 1327.22L1535.3 1321Z"/><path d="M1612.8 1322L1616.96 1315.73L1621.11 1314.76L1625.27 1314.79L1629.42 1314.88L1633.58 1315.07L1637.74 1315.38L1641.89 1315.7L1646.05 1315.84L1650.21 1315.7L1654.36 1315.38L1658.52 1315.07L1662.67 1314.88L1666.83 1314.79L1670.99 1314.76L1675.14 1315.73L1679.3 1322L1679.3 1322L1675.14 1328.27L1670.99 1329.24L1666.83 1329.21L1662.67 1329.12L1658.52 1328.93L1654.36 1328.62L1650.21 1328.3L1646.05 1328.16L1641.89 1328.3L1637.74 1328.62L1633.58 1328.93L1629.42 1329.12L1625.27 1329.21L1621.11 1329.24L1616.96 1328.27L1612.8 1322Z" fill-opacity="0.45"/><path d="M1701 1321.5L1705.81 1315.43L1710.62 1315L1715.44 1315L1720.25 1315L1725.06 1315L1729.88 1315L1734.69 1315L1739.5 1315L1744.31 1315L1749.12 1315L1753.94 1315L1758.75 1315L1763.56 1315L1768.38 1315L1773.19 1315.43L1778 1321.5L1778 1321.5L1773.19 1327.57L1768.38 1328L1763.56 1328L1758.75 1328L1753.94 1328L1749.12 1328L1744.31 1328L1739.5 1328L1734.69 1328L1729.88 1328L1725.06 1328L1720.25 1328L1715.44 1328L1710.62 1328L1705.81 1327.57L1701 1321.5Z" fill-opacity="0.06"/><path d="M1795 1321L1799.81 1315.28L1804.62 1315L1809.44 1315L1814.25 1315L1819.06 1315L1823.88 1315L1828.69 1315L1833.5 1315L1838.31 1315L1843.12 1315L1847.94 1315L1852.75 1315L1857.56 1315L1862.38 1315L1867.19 1315.28L1872 1321L1872 1321L1867.19 1326.72L1862.38 1327L1857.56 1327L1852.75 1327L1847.94 1327L1843.12 1327L1838.31 1327L1833.5 1327L1828.69 1327L1823.88 1327L1819.06 1327L1814.25 1327L1809.44 1327L1804.62 1327L1799.81 1326.72L1795 1321Z" fill-opacity="0.025"/></g></g>
<g clip-path="url(#c1)"><rect x="1530" y="1386.3" width="358" height="60.9" fill="url(#g1)"/><use href="#s1" filter="url(#bh)" opacity="0.25"/><g id="s1" filter="url(#b20)"><path d="M1538.3 1417.3L1542.64 1409.35L1546.99 1407.42L1551.33 1407.08L1555.67 1407.14L1560.02 1407.29L1564.36 1407.53L1568.71 1407.77L1573.05 1407.87L1577.39 1407.77L1581.74 1407.53L1586.08 1407.29L1590.42 1407.14L1594.77 1407.08L1599.11 1407.42L1603.46 1409.35L1607.8 1417.3L1607.8 1417.3L1603.46 1425.25L1599.11 1427.18L1594.77 1427.52L1590.42 1427.46L1586.08 1427.31L1581.74 1427.07L1577.39 1426.83L1573.05 1426.73L1568.71 1426.83L1564.36 1427.07L1560.02 1427.31L1555.67 1427.46L1551.33 1427.52L1546.99 1427.18L1542.64 1425.25L1538.3 1417.3Z"/><path d="M1620.9 1416.8L1625.87 1408.19L1630.84 1406.27L1635.81 1406.09L1640.78 1406.17L1645.74 1406.37L1650.71 1406.68L1655.68 1406.99L1660.65 1407.12L1665.62 1406.99L1670.59 1406.68L1675.56 1406.37L1680.53 1406.17L1685.49 1406.09L1690.46 1406.27L1695.43 1408.19L1700.4 1416.8L1700.4 1416.8L1695.43 1425.41L1690.46 1427.33L1685.49 1427.51L1680.53 1427.43L1675.56 1427.23L1670.59 1426.92L1665.62 1426.61L1660.65 1426.47L1655.68 1426.61L1650.71 1426.92L1645.74 1427.23L1640.78 1427.43L1635.81 1427.51L1630.84 1427.33L1625.87 1425.41L1620.9 1416.8Z"/><path d="M1714.5 1416.8L1718.34 1410.43L1722.19 1409.14L1726.03 1409.1L1729.88 1409.23L1733.72 1409.51L1737.56 1409.95L1741.41 1410.4L1745.25 1410.6L1749.09 1410.4L1752.94 1409.95L1756.78 1409.51L1760.62 1409.23L1764.47 1409.1L1768.31 1409.14L1772.16 1410.43L1776 1416.8L1776 1416.8L1772.16 1423.17L1768.31 1424.46L1764.47 1424.5L1760.62 1424.37L1756.78 1424.09L1752.94 1423.65L1749.09 1423.2L1745.25 1423L1741.41 1423.2L1737.56 1423.65L1733.72 1424.09L1729.88 1424.37L1726.03 1424.5L1722.19 1424.46L1718.34 1423.17L1714.5 1416.8Z"/><path d="M1797.1 1416.75L1801.82 1409.91L1806.55 1408.95L1811.27 1408.86L1816 1408.88L1820.72 1409.14L1825.45 1409.62L1830.17 1410.12L1834.9 1410.25L1839.62 1409.81L1844.35 1409L1849.08 1408.2L1853.8 1407.63L1858.53 1407.3L1863.25 1407.08L1867.98 1407.72L1872.7 1414.25L1872.7 1414.25L1867.98 1421.09L1863.25 1422.05L1858.53 1422.14L1853.8 1422.12L1849.08 1421.86L1844.35 1421.38L1839.62 1420.88L1834.9 1420.75L1830.17 1421.19L1825.45 1422L1820.72 1422.8L1816 1423.37L1811.27 1423.7L1806.55 1423.92L1801.82 1423.28L1797.1 1416.75Z"/></g></g>
<g clip-path="url(#c2)"><rect x="1531" y="1478.2" width="355.1" height="63.5" fill="url(#g2)"/><use href="#s2" filter="url(#bh)" opacity="0.35"/><g id="s2" filter="url(#b24)"><path d="M1543.3 1499.8L1547.39 1485.41L1551.49 1481.95L1555.58 1481.48L1559.67 1481.9L1563.77 1482.83L1567.86 1484.32L1571.96 1485.83L1576.05 1486.48L1580.14 1485.83L1584.24 1484.32L1588.33 1482.83L1592.42 1481.9L1596.52 1481.48L1600.61 1481.95L1604.71 1485.41L1608.8 1499.8L1608.8 1499.8L1604.71 1514.19L1600.61 1517.65L1596.52 1518.12L1592.42 1517.7L1588.33 1516.77L1584.24 1515.28L1580.14 1513.77L1576.05 1513.12L1571.96 1513.77L1567.86 1515.28L1563.77 1516.77L1559.67 1517.7L1555.58 1518.12L1551.49 1517.65L1547.39 1514.19L1543.3 1499.8Z"/><path d="M1622.9 1499.8L1627.06 1484.15L1631.21 1480.48L1635.37 1480.14L1639.53 1480.95L1643.68 1482.76L1647.84 1485.62L1651.99 1488.54L1656.15 1489.8L1660.31 1488.54L1664.46 1485.62L1668.62 1482.76L1672.78 1480.95L1676.93 1480.14L1681.09 1480.48L1685.24 1484.15L1689.4 1499.8L1689.4 1499.8L1685.24 1515.45L1681.09 1519.12L1676.93 1519.46L1672.78 1518.65L1668.62 1516.84L1664.46 1513.98L1660.31 1511.06L1656.15 1509.8L1651.99 1511.06L1647.84 1513.98L1643.68 1516.84L1639.53 1518.65L1635.37 1519.46L1631.21 1519.12L1627.06 1515.45L1622.9 1499.8Z"/><path d="M1709 1494L1713.31 1487.51L1717.62 1486.51L1721.94 1486.53L1726.25 1486.59L1730.56 1486.72L1734.88 1486.94L1739.19 1487.16L1743.5 1487.25L1747.81 1487.16L1752.12 1486.94L1756.44 1486.72L1760.75 1486.59L1765.06 1486.53L1769.38 1486.51L1773.69 1487.51L1778 1494L1778 1494L1773.69 1500.49L1769.38 1501.49L1765.06 1501.47L1760.75 1501.41L1756.44 1501.28L1752.12 1501.06L1747.81 1500.84L1743.5 1500.75L1739.19 1500.84L1734.88 1501.06L1730.56 1501.28L1726.25 1501.41L1721.94 1501.47L1717.62 1501.49L1713.31 1500.49L1709 1494Z" fill-opacity="0.52"/><path d="M1800 1497L1804.94 1489.8L1809.88 1488.88L1814.81 1489.06L1819.75 1489.25L1824.69 1489.44L1829.62 1489.62L1834.56 1489.81L1839.5 1490L1844.44 1490.19L1849.38 1490.38L1854.31 1490.56L1859.25 1490.75L1864.19 1490.94L1869.12 1491.12L1874.06 1492.43L1879 1500L1879 1500L1874.06 1507.2L1869.12 1508.12L1864.19 1507.94L1859.25 1507.75L1854.31 1507.56L1849.38 1507.38L1844.44 1507.19L1839.5 1507L1834.56 1506.81L1829.62 1506.62L1824.69 1506.44L1819.75 1506.25L1814.81 1506.06L1809.88 1505.88L1804.94 1504.57L1800 1497Z" fill-opacity="0.27"/></g></g>
<g clip-path="url(#c3)"><rect x="1531.9" y="1571.7" width="354.2" height="68.8" fill="url(#g3)"/><use href="#s3" filter="url(#bh)" opacity="0.25"/><g id="s3" filter="url(#b20)"><path d="M1539.6 1607.6L1544.32 1598.84L1549.04 1596.66L1553.76 1596.2L1558.47 1596.2L1563.19 1596.2L1567.91 1596.2L1572.63 1596.2L1577.35 1596.2L1582.07 1596.2L1586.79 1596.2L1591.51 1596.2L1596.22 1596.2L1600.94 1596.2L1605.66 1596.66L1610.38 1598.84L1615.1 1607.6L1615.1 1607.6L1610.38 1616.36L1605.66 1618.54L1600.94 1619L1596.22 1619L1591.51 1619L1586.79 1619L1582.07 1619L1577.35 1619L1572.63 1619L1567.91 1619L1563.19 1619L1558.47 1619L1553.76 1619L1549.04 1618.54L1544.32 1616.36L1539.6 1607.6Z"/><path d="M1621.8 1606.9L1627.08 1597.46L1632.35 1595.24L1637.62 1594.93L1642.9 1595.01L1648.17 1595.18L1653.45 1595.46L1658.72 1595.74L1664 1595.86L1669.28 1595.74L1674.55 1595.46L1679.83 1595.18L1685.1 1595.01L1690.38 1594.93L1695.65 1595.24L1700.92 1597.46L1706.2 1606.9L1706.2 1606.9L1700.92 1616.34L1695.65 1618.56L1690.38 1618.87L1685.1 1618.79L1679.83 1618.62L1674.55 1618.34L1669.28 1618.06L1664 1617.94L1658.72 1618.06L1653.45 1618.34L1648.17 1618.62L1642.9 1618.79L1637.62 1618.87L1632.35 1618.56L1627.08 1616.34L1621.8 1606.9Z"/><path d="M1713 1606.9L1717.22 1598.78L1721.45 1596.67L1725.67 1596.1L1729.9 1596.1L1734.12 1596.1L1738.35 1596.1L1742.58 1596.1L1746.8 1596.1L1751.02 1596.1L1755.25 1596.1L1759.47 1596.1L1763.7 1596.1L1767.92 1596.1L1772.15 1596.67L1776.38 1598.78L1780.6 1606.9L1780.6 1606.9L1776.38 1615.02L1772.15 1617.13L1767.92 1617.7L1763.7 1617.7L1759.47 1617.7L1755.25 1617.7L1751.02 1617.7L1746.8 1617.7L1742.58 1617.7L1738.35 1617.7L1734.12 1617.7L1729.9 1617.7L1725.67 1617.7L1721.45 1617.13L1717.22 1615.02L1713 1606.9Z"/><path d="M1794.5 1605.7L1799.52 1597.03L1804.54 1595.11L1809.56 1594.94L1814.58 1595.02L1819.59 1595.22L1824.61 1595.53L1829.63 1595.84L1834.65 1595.98L1839.67 1595.84L1844.69 1595.53L1849.71 1595.22L1854.72 1595.02L1859.74 1594.94L1864.76 1595.11L1869.78 1597.03L1874.8 1605.7L1874.8 1605.7L1869.78 1614.37L1864.76 1616.29L1859.74 1616.46L1854.72 1616.38L1849.71 1616.18L1844.69 1615.87L1839.67 1615.56L1834.65 1615.42L1829.63 1615.56L1824.61 1615.87L1819.59 1616.18L1814.58 1616.38L1809.56 1616.46L1804.54 1616.29L1799.52 1614.37L1794.5 1605.7Z"/></g></g>
<g clip-path="url(#c4)"><rect x="1941.6" y="1288.7" width="356.2" height="62.1" fill="url(#g4)"/><use href="#s4" filter="url(#bh)" opacity="0.25"/><g id="s4" filter="url(#b20)"><path d="M1946.2 1317.8L1950.61 1309.23L1955.01 1306.97L1959.42 1306.35L1963.83 1306.46L1968.23 1306.71L1972.64 1307.1L1977.04 1307.51L1981.45 1307.68L1985.86 1307.51L1990.26 1307.1L1994.67 1306.71L1999.08 1306.46L2003.48 1306.35L2007.89 1306.97L2012.29 1309.23L2016.7 1317.8L2016.7 1317.8L2012.29 1326.37L2007.89 1328.63L2003.48 1329.25L1999.08 1329.14L1994.67 1328.89L1990.26 1328.5L1985.86 1328.09L1981.45 1327.92L1977.04 1328.09L1972.64 1328.5L1968.23 1328.89L1963.83 1329.14L1959.42 1329.25L1955.01 1328.63L1950.61 1326.37L1946.2 1317.8Z"/><path d="M2025.8 1319L2030.58 1310.4L2035.36 1308.41L2040.14 1308.27L2044.92 1308.78L2049.71 1309.86L2054.49 1311.52L2059.27 1313.19L2064.05 1313.93L2068.83 1313.28L2073.61 1311.76L2078.39 1310.27L2083.18 1309.36L2087.96 1308.99L2092.74 1309.19L2097.52 1311.08L2102.3 1319L2102.3 1319L2097.52 1326.92L2092.74 1328.81L2087.96 1329.01L2083.18 1328.64L2078.39 1327.73L2073.61 1326.24L2068.83 1324.72L2064.05 1324.07L2059.27 1324.81L2054.49 1326.48L2049.71 1328.14L2044.92 1329.22L2040.14 1329.73L2035.36 1329.59L2030.58 1327.6L2025.8 1319Z"/><path d="M2122.5 1320.5L2126.84 1314.46L2131.19 1313.83L2135.53 1313.98L2139.88 1314.32L2144.22 1315.01L2148.56 1316.01L2152.91 1317L2157.25 1317.46L2161.59 1317.15L2165.94 1316.38L2170.28 1315.64L2174.62 1315.22L2178.97 1315.08L2183.31 1315.07L2187.66 1315.64L2192 1320.5L2192 1320.5L2187.66 1325.36L2183.31 1325.93L2178.97 1325.92L2174.62 1325.78L2170.28 1325.36L2165.94 1324.62L2161.59 1323.85L2157.25 1323.54L2152.91 1324L2148.56 1324.99L2144.22 1325.99L2139.88 1326.68L2135.53 1327.02L2131.19 1327.17L2126.84 1326.54L2122.5 1320.5Z" fill-opacity="0.95"/><path d="M2218.1 1320.5L2222.38 1316.77L2226.66 1316.21L2230.94 1316.13L2235.22 1316.13L2239.51 1316.32L2243.79 1316.76L2248.07 1317.27L2252.35 1317.42L2256.63 1316.94L2260.91 1315.97L2265.19 1314.97L2269.47 1314.25L2273.76 1313.84L2278.04 1313.63L2282.32 1314.34L2286.6 1320.5L2286.6 1320.5L2282.32 1326.66L2278.04 1327.37L2273.76 1327.16L2269.47 1326.75L2265.19 1326.03L2260.91 1325.03L2256.63 1324.06L2252.35 1323.58L2248.07 1323.73L2243.79 1324.24L2239.51 1324.68L2235.22 1324.87L2230.94 1324.87L2226.66 1324.79L2222.38 1324.23L2218.1 1320.5Z" fill-opacity="0.95"/></g></g>
<g clip-path="url(#c5)"><rect x="1941.6" y="1386.3" width="356.2" height="60.9" fill="url(#g5)"/><use href="#s5" filter="url(#bh)" opacity="0.28"/><g id="s5" filter="url(#b20)"><path d="M1950.2 1423.5L1954.36 1415.35L1958.51 1413.18L1962.67 1412.58L1966.83 1412.75L1970.98 1413.15L1975.14 1413.78L1979.29 1414.42L1983.45 1414.7L1987.61 1414.42L1991.76 1413.78L1995.92 1413.15L2000.08 1412.75L2004.23 1412.58L2008.39 1413.18L2012.54 1415.35L2016.7 1423.5L2016.7 1423.5L2012.54 1431.65L2008.39 1433.82L2004.23 1434.42L2000.08 1434.25L1995.92 1433.85L1991.76 1433.22L1987.61 1432.58L1983.45 1432.3L1979.29 1432.58L1975.14 1433.22L1970.98 1433.85L1966.83 1434.25L1962.67 1434.42L1958.51 1433.82L1954.36 1431.65L1950.2 1423.5Z"/><path d="M2036.8 1424.8L2040.71 1416.64L2044.61 1414.32L2048.52 1413.43L2052.43 1413.5L2056.33 1413.81L2060.24 1414.3L2064.14 1414.81L2068.05 1415.02L2071.96 1414.81L2075.86 1414.3L2079.77 1413.81L2083.68 1413.5L2087.58 1413.43L2091.49 1414.32L2095.39 1416.64L2099.3 1424.8L2099.3 1424.8L2095.39 1432.96L2091.49 1435.28L2087.58 1436.17L2083.68 1436.1L2079.77 1435.79L2075.86 1435.3L2071.96 1434.79L2068.05 1434.58L2064.14 1434.79L2060.24 1435.3L2056.33 1435.79L2052.43 1436.1L2048.52 1436.17L2044.61 1435.28L2040.71 1432.96L2036.8 1424.8Z"/><path d="M2120.4 1426.8L2124.75 1417.43L2129.1 1414.67L2133.45 1413.47L2137.8 1413.3L2142.15 1413.3L2146.5 1413.3L2150.85 1413.3L2155.2 1413.3L2159.55 1413.3L2163.9 1413.3L2168.25 1413.3L2172.6 1413.3L2176.95 1413.47L2181.3 1414.67L2185.65 1417.43L2190 1426.8L2190 1426.8L2185.65 1436.17L2181.3 1438.93L2176.95 1440.13L2172.6 1440.3L2168.25 1440.3L2163.9 1440.3L2159.55 1440.3L2155.2 1440.3L2150.85 1440.3L2146.5 1440.3L2142.15 1440.3L2137.8 1440.3L2133.45 1440.13L2129.1 1438.93L2124.75 1436.17L2120.4 1426.8Z"/><path d="M2208.1 1428.4L2212.51 1420.53L2216.91 1418.71L2221.32 1418.55L2225.72 1418.92L2230.13 1419.73L2234.54 1421.02L2238.94 1422.33L2243.35 1422.9L2247.76 1422.33L2252.16 1421.02L2256.57 1419.73L2260.97 1418.92L2265.38 1418.55L2269.79 1418.71L2274.19 1420.53L2278.6 1428.4L2278.6 1428.4L2274.19 1436.27L2269.79 1438.09L2265.38 1438.25L2260.97 1437.88L2256.57 1437.07L2252.16 1435.78L2247.76 1434.47L2243.35 1433.9L2238.94 1434.47L2234.54 1435.78L2230.13 1437.07L2225.72 1437.88L2221.32 1438.25L2216.91 1438.09L2212.51 1436.27L2208.1 1428.4Z"/></g></g>
<g clip-path="url(#c6)"><rect x="1939.6" y="1476.7" width="358" height="65" fill="url(#g6)"/><use href="#s6" filter="url(#bh)" opacity="0.4"/><g id="s6" filter="url(#b40)"><path d="M1948 1515.8L1952.19 1508.32L1956.39 1506.56L1960.58 1506.3L1964.78 1506.3L1968.97 1506.3L1973.16 1506.3L1977.36 1506.3L1981.55 1506.3L1985.74 1506.3L1989.94 1506.3L1994.13 1506.3L1998.32 1506.3L2002.52 1506.3L2006.71 1506.56L2010.91 1508.32L2015.1 1515.8L2015.1 1515.8L2010.91 1523.28L2006.71 1525.04L2002.52 1525.3L1998.32 1525.3L1994.13 1525.3L1989.94 1525.3L1985.74 1525.3L1981.55 1525.3L1977.36 1525.3L1973.16 1525.3L1968.97 1525.3L1964.78 1525.3L1960.58 1525.3L1956.39 1525.04L1952.19 1523.28L1948 1515.8Z" fill-opacity="0.47"/><path d="M2036.7 1513.4L2040.74 1506.02L2044.79 1504.23L2048.83 1503.9L2052.88 1503.9L2056.92 1503.9L2060.96 1503.9L2065.01 1503.9L2069.05 1503.9L2073.09 1503.9L2077.14 1503.9L2081.18 1503.9L2085.22 1503.9L2089.27 1503.9L2093.31 1504.23L2097.36 1506.02L2101.4 1513.4L2101.4 1513.4L2097.36 1520.78L2093.31 1522.57L2089.27 1522.9L2085.22 1522.9L2081.18 1522.9L2077.14 1522.9L2073.09 1522.9L2069.05 1522.9L2065.01 1522.9L2060.96 1522.9L2056.92 1522.9L2052.88 1522.9L2048.83 1522.9L2044.79 1522.57L2040.74 1520.78L2036.7 1513.4Z" fill-opacity="0.5"/><path d="M2125.4 1511L2129.45 1504.11L2133.5 1502.63L2137.55 1502.5L2141.6 1502.5L2145.65 1502.5L2149.7 1502.5L2153.75 1502.5L2157.8 1502.5L2161.85 1502.5L2165.9 1502.5L2169.95 1502.5L2174 1502.5L2178.05 1502.5L2182.1 1502.63L2186.15 1504.11L2190.2 1511L2190.2 1511L2186.15 1517.89L2182.1 1519.37L2178.05 1519.5L2174 1519.5L2169.95 1519.5L2165.9 1519.5L2161.85 1519.5L2157.8 1519.5L2153.75 1519.5L2149.7 1519.5L2145.65 1519.5L2141.6 1519.5L2137.55 1519.5L2133.5 1519.37L2129.45 1517.89L2125.4 1511Z" fill-opacity="0.36"/><path d="M2211.8 1511L2216.29 1503.85L2220.79 1502.53L2225.28 1502.5L2229.78 1502.5L2234.27 1502.5L2238.76 1502.5L2243.26 1502.5L2247.75 1502.5L2252.24 1502.5L2256.74 1502.5L2261.23 1502.5L2265.72 1502.5L2270.22 1502.5L2274.71 1502.53L2279.21 1503.85L2283.7 1511L2283.7 1511L2279.21 1518.15L2274.71 1519.47L2270.22 1519.5L2265.72 1519.5L2261.23 1519.5L2256.74 1519.5L2252.24 1519.5L2247.75 1519.5L2243.26 1519.5L2238.76 1519.5L2234.27 1519.5L2229.78 1519.5L2225.28 1519.5L2220.79 1519.47L2216.29 1518.15L2211.8 1511Z" fill-opacity="0.27"/></g></g>
<g clip-path="url(#c7)"><rect x="1940.3" y="1571.7" width="357.3" height="68.8" fill="url(#g7)"/><use href="#s7" filter="url(#bh)" opacity="0.28"/><g id="s7" filter="url(#b20)"><path d="M1944.4 1604.5L1949.42 1594.43L1954.44 1591.67L1959.46 1590.72L1964.48 1590.7L1969.49 1590.7L1974.51 1590.7L1979.53 1590.7L1984.55 1590.7L1989.57 1590.7L1994.59 1590.7L1999.61 1590.7L2004.62 1590.7L2009.64 1590.72L2014.66 1591.67L2019.68 1594.43L2024.7 1604.5L2024.7 1604.5L2019.68 1614.57L2014.66 1617.33L2009.64 1618.28L2004.62 1618.3L1999.61 1618.3L1994.59 1618.3L1989.57 1618.3L1984.55 1618.3L1979.53 1618.3L1974.51 1618.3L1969.49 1618.3L1964.48 1618.3L1959.46 1618.28L1954.44 1617.33L1949.42 1614.57L1944.4 1604.5Z"/><path d="M2031.9 1604.5L2036.54 1595.3L2041.19 1592.81L2045.83 1592.01L2050.47 1592L2055.12 1592L2059.76 1592L2064.41 1592L2069.05 1592L2073.69 1592L2078.34 1592L2082.98 1592L2087.62 1592L2092.27 1592.01L2096.91 1592.81L2101.56 1595.3L2106.2 1604.5L2106.2 1604.5L2101.56 1613.7L2096.91 1616.19L2092.27 1616.99L2087.62 1617L2082.98 1617L2078.34 1617L2073.69 1617L2069.05 1617L2064.41 1617L2059.76 1617L2055.12 1617L2050.47 1617L2045.83 1616.99L2041.19 1616.19L2036.54 1613.7L2031.9 1604.5Z"/><path d="M2117 1603.8L2121.8 1593.66L2126.6 1590.73L2131.4 1589.52L2136.2 1589.4L2141 1589.4L2145.8 1589.4L2150.6 1589.4L2155.4 1589.4L2160.2 1589.4L2165 1589.4L2169.8 1589.4L2174.6 1589.4L2179.4 1589.52L2184.2 1590.73L2189 1593.66L2193.8 1603.8L2193.8 1603.8L2189 1613.94L2184.2 1616.87L2179.4 1618.08L2174.6 1618.2L2169.8 1618.2L2165 1618.2L2160.2 1618.2L2155.4 1618.2L2150.6 1618.2L2145.8 1618.2L2141 1618.2L2136.2 1618.2L2131.4 1618.08L2126.6 1616.87L2121.8 1613.94L2117 1603.8Z"/><path d="M2204.6 1601.4L2209.47 1592.54L2214.34 1590.39L2219.21 1590.05L2224.07 1590.16L2228.94 1590.41L2233.81 1590.8L2238.68 1591.2L2243.55 1591.37L2248.42 1591.2L2253.29 1590.8L2258.16 1590.41L2263.03 1590.16L2267.89 1590.05L2272.76 1590.39L2277.63 1592.54L2282.5 1601.4L2282.5 1601.4L2277.63 1610.26L2272.76 1612.41L2267.89 1612.75L2263.03 1612.64L2258.16 1612.39L2253.29 1612L2248.42 1611.6L2243.55 1611.43L2238.68 1611.6L2233.81 1612L2228.94 1612.39L2224.07 1612.64L2219.21 1612.75L2214.34 1612.41L2209.47 1610.26L2204.6 1601.4Z"/></g></g>
<g clip-path="url(#c8)"><rect x="1531.4" y="1750.8" width="354.7" height="61.2" fill="url(#g8)"/><use href="#s8" filter="url(#bh)" opacity="0.25"/><g id="s8" filter="url(#b20)"><path d="M1537.2 1780.3L1541.69 1771.99L1546.19 1769.92L1550.68 1769.5L1555.17 1769.5L1559.67 1769.5L1564.16 1769.5L1568.66 1769.5L1573.15 1769.5L1577.64 1769.5L1582.14 1769.5L1586.63 1769.5L1591.12 1769.5L1595.62 1769.5L1600.11 1769.92L1604.61 1771.99L1609.1 1780.3L1609.1 1780.3L1604.61 1788.61L1600.11 1790.68L1595.62 1791.1L1591.12 1791.1L1586.63 1791.1L1582.14 1791.1L1577.64 1791.1L1573.15 1791.1L1568.66 1791.1L1564.16 1791.1L1559.67 1791.1L1555.17 1791.1L1550.68 1791.1L1546.19 1790.68L1541.69 1788.61L1537.2 1780.3Z"/><path d="M1623.5 1781.5L1627.92 1773.24L1632.34 1771.16L1636.76 1770.7L1641.17 1770.7L1645.59 1770.7L1650.01 1770.7L1654.43 1770.7L1658.85 1770.7L1663.27 1770.7L1667.69 1770.7L1672.11 1770.7L1676.53 1770.7L1680.94 1770.7L1685.36 1771.16L1689.78 1773.24L1694.2 1781.5L1694.2 1781.5L1689.78 1789.76L1685.36 1791.84L1680.94 1792.3L1676.53 1792.3L1672.11 1792.3L1667.69 1792.3L1663.27 1792.3L1658.85 1792.3L1654.43 1792.3L1650.01 1792.3L1645.59 1792.3L1641.17 1792.3L1636.76 1792.3L1632.34 1791.84L1627.92 1789.76L1623.5 1781.5Z"/><path d="M1707.4 1783.9L1711.83 1775.64L1716.25 1773.56L1720.68 1773.1L1725.1 1773.1L1729.53 1773.1L1733.95 1773.1L1738.38 1773.1L1742.8 1773.1L1747.23 1773.1L1751.65 1773.1L1756.08 1773.1L1760.5 1773.1L1764.92 1773.1L1769.35 1773.56L1773.78 1775.64L1778.2 1783.9L1778.2 1783.9L1773.78 1792.16L1769.35 1794.24L1764.92 1794.7L1760.5 1794.7L1756.08 1794.7L1751.65 1794.7L1747.23 1794.7L1742.8 1794.7L1738.38 1794.7L1733.95 1794.7L1729.53 1794.7L1725.1 1794.7L1720.68 1794.7L1716.25 1794.24L1711.83 1792.16L1707.4 1783.9Z"/><path d="M1798.6 1785.1L1802.87 1779.39L1807.14 1778.86L1811.41 1778.9L1815.67 1779.03L1819.94 1779.31L1824.21 1779.76L1828.48 1780.21L1832.75 1780.41L1837.02 1780.21L1841.29 1779.76L1845.56 1779.31L1849.83 1779.03L1854.09 1778.9L1858.36 1778.86L1862.63 1779.39L1866.9 1785.1L1866.9 1785.1L1862.63 1790.81L1858.36 1791.34L1854.09 1791.3L1849.83 1791.17L1845.56 1790.89L1841.29 1790.44L1837.02 1789.99L1832.75 1789.79L1828.48 1789.99L1824.21 1790.44L1819.94 1790.89L1815.67 1791.17L1811.41 1791.3L1807.14 1791.34L1802.87 1790.81L1798.6 1785.1Z"/></g></g>
<g clip-path="url(#c9)"><rect x="1529.9" y="1847.7" width="356.2" height="61" fill="url(#g9)"/><use href="#s9" filter="url(#bh)" opacity="0.2"/><g id="s9" filter="url(#b20)"><path d="M1538.4 1883L1542.37 1877.57L1546.34 1877L1550.31 1877L1554.28 1877L1558.24 1877L1562.21 1877L1566.18 1877L1570.15 1877L1574.12 1877L1578.09 1877L1582.06 1877L1586.03 1877L1589.99 1877L1593.96 1877L1597.93 1877.57L1601.9 1883L1601.9 1883L1597.93 1888.43L1593.96 1889L1589.99 1889L1586.03 1889L1582.06 1889L1578.09 1889L1574.12 1889L1570.15 1889L1566.18 1889L1562.21 1889L1558.24 1889L1554.28 1889L1550.31 1889L1546.34 1889L1542.37 1888.43L1538.4 1883Z"/><path d="M1624.7 1883.5L1628.89 1878.32L1633.09 1878L1637.28 1878L1641.47 1878L1645.67 1878L1649.86 1878L1654.06 1878L1658.25 1878L1662.44 1878L1666.64 1878L1670.83 1878L1675.03 1878L1679.22 1878L1683.41 1878L1687.61 1878.32L1691.8 1883.5L1691.8 1883.5L1687.61 1888.68L1683.41 1889L1679.22 1889L1675.03 1889L1670.83 1889L1666.64 1889L1662.44 1889L1658.25 1889L1654.06 1889L1649.86 1889L1645.67 1889L1641.47 1889L1637.28 1889L1633.09 1889L1628.89 1888.68L1624.7 1883.5Z"/><path d="M1711 1884.2L1715.2 1881.1L1719.4 1881.01L1723.6 1880.98L1727.8 1881.01L1732 1881.16L1736.2 1881.46L1740.4 1881.8L1744.6 1881.9L1748.8 1881.63L1753 1881.07L1757.2 1880.5L1761.4 1880.1L1765.6 1879.87L1769.8 1879.77L1774 1879.8L1778.2 1884.2L1778.2 1884.2L1774 1888.6L1769.8 1888.63L1765.6 1888.53L1761.4 1888.3L1757.2 1887.9L1753 1887.33L1748.8 1886.77L1744.6 1886.5L1740.4 1886.6L1736.2 1886.94L1732 1887.24L1727.8 1887.39L1723.6 1887.42L1719.4 1887.39L1715.2 1887.3L1711 1884.2Z" fill-opacity="0.85"/><path d="M1799.8 1884.7L1804.29 1880.26L1808.79 1880.28L1813.28 1880.41L1817.78 1880.66L1822.27 1881.09L1826.76 1881.67L1831.26 1882.24L1835.75 1882.54L1840.24 1882.47L1844.74 1882.2L1849.23 1881.97L1853.72 1881.87L1858.22 1881.89L1862.71 1881.94L1867.21 1882.01L1871.7 1884.7L1871.7 1884.7L1867.21 1887.39L1862.71 1887.46L1858.22 1887.51L1853.72 1887.53L1849.23 1887.43L1844.74 1887.2L1840.24 1886.93L1835.75 1886.86L1831.26 1887.16L1826.76 1887.73L1822.27 1888.31L1817.78 1888.74L1813.28 1888.99L1808.79 1889.12L1804.29 1889.14L1799.8 1884.7Z" fill-opacity="0.8"/></g></g>
<g clip-path="url(#c10)"><rect x="1529.9" y="1938.3" width="356.2" height="64.4" fill="url(#g10)"/><use href="#s10" filter="url(#bh)" opacity="0.25"/><g id="s10" filter="url(#b30)"><path d="M1543.2 1971L1547.09 1965.6L1550.99 1965L1554.88 1965L1558.78 1965L1562.67 1965L1566.56 1965L1570.46 1965L1574.35 1965L1578.24 1965L1582.14 1965L1586.03 1965L1589.92 1965L1593.82 1965L1597.71 1965L1601.61 1965.6L1605.5 1971L1605.5 1971L1601.61 1976.4L1597.71 1977L1593.82 1977L1589.92 1977L1586.03 1977L1582.14 1977L1578.24 1977L1574.35 1977L1570.46 1977L1566.56 1977L1562.67 1977L1558.78 1977L1554.88 1977L1550.99 1977L1547.09 1976.4L1543.2 1971Z" fill-opacity="0.68"/><path d="M1624.7 1972.2L1628.6 1966.8L1632.5 1966.2L1636.4 1966.2L1640.3 1966.2L1644.2 1966.2L1648.1 1966.2L1652 1966.2L1655.9 1966.2L1659.8 1966.2L1663.7 1966.2L1667.6 1966.2L1671.5 1966.2L1675.4 1966.2L1679.3 1966.2L1683.2 1966.8L1687.1 1972.2L1687.1 1972.2L1683.2 1977.6L1679.3 1978.2L1675.4 1978.2L1671.5 1978.2L1667.6 1978.2L1663.7 1978.2L1659.8 1978.2L1655.9 1978.2L1652 1978.2L1648.1 1978.2L1644.2 1978.2L1640.3 1978.2L1636.4 1978.2L1632.5 1978.2L1628.6 1977.6L1624.7 1972.2Z" fill-opacity="0.68"/><path d="M1708.6 1972.2L1712.35 1966.86L1716.1 1966.2L1719.85 1966.2L1723.6 1966.2L1727.35 1966.2L1731.1 1966.2L1734.85 1966.2L1738.6 1966.2L1742.35 1966.2L1746.1 1966.2L1749.85 1966.2L1753.6 1966.2L1757.35 1966.2L1761.1 1966.2L1764.85 1966.86L1768.6 1972.2L1768.6 1972.2L1764.85 1977.54L1761.1 1978.2L1757.35 1978.2L1753.6 1978.2L1749.85 1978.2L1746.1 1978.2L1742.35 1978.2L1738.6 1978.2L1734.85 1978.2L1731.1 1978.2L1727.35 1978.2L1723.6 1978.2L1719.85 1978.2L1716.1 1978.2L1712.35 1977.54L1708.6 1972.2Z" fill-opacity="0.55"/><path d="M1792.6 1973.8L1797.09 1968.43L1801.59 1968.3L1806.08 1968.55L1810.57 1968.8L1815.07 1969.05L1819.56 1969.3L1824.06 1969.55L1828.55 1969.8L1833.04 1970.05L1837.54 1970.3L1842.03 1970.55L1846.53 1970.8L1851.02 1971.05L1855.51 1971.3L1860.01 1971.93L1864.5 1977.8L1864.5 1977.8L1860.01 1983.17L1855.51 1983.3L1851.02 1983.05L1846.53 1982.8L1842.03 1982.55L1837.54 1982.3L1833.04 1982.05L1828.55 1981.8L1824.06 1981.55L1819.56 1981.3L1815.07 1981.05L1810.57 1980.8L1806.08 1980.55L1801.59 1980.3L1797.09 1979.67L1792.6 1973.8Z" fill-opacity="0.45"/></g></g>
<g clip-path="url(#c11)"><rect x="1530.9" y="2029" width="355.2" height="63.5" fill="url(#g11)"/><use href="#s11" filter="url(#bh)" opacity="0.3"/><g id="s11" filter="url(#b20)"><path d="M1539.6 2059.7L1544.02 2048.88L1548.44 2046.47L1552.86 2046.24L1557.27 2046.32L1561.69 2046.52L1566.11 2046.83L1570.53 2047.14L1574.95 2047.28L1579.37 2047.14L1583.79 2046.83L1588.21 2046.52L1592.62 2046.32L1597.04 2046.24L1601.46 2046.47L1605.88 2048.88L1610.3 2059.7L1610.3 2059.7L1605.88 2070.52L1601.46 2072.93L1597.04 2073.16L1592.62 2073.08L1588.21 2072.88L1583.79 2072.57L1579.37 2072.26L1574.95 2072.12L1570.53 2072.26L1566.11 2072.57L1561.69 2072.88L1557.27 2073.08L1552.86 2073.16L1548.44 2072.93L1544.02 2070.52L1539.6 2059.7Z"/><path d="M1621.1 2059.7L1625.52 2048.88L1629.94 2046.48L1634.36 2046.26L1638.77 2046.39L1643.19 2046.68L1647.61 2047.14L1652.03 2047.62L1656.45 2047.82L1660.87 2047.62L1665.29 2047.14L1669.71 2046.68L1674.12 2046.39L1678.54 2046.26L1682.96 2046.48L1687.38 2048.88L1691.8 2059.7L1691.8 2059.7L1687.38 2070.52L1682.96 2072.92L1678.54 2073.14L1674.12 2073.01L1669.71 2072.72L1665.29 2072.26L1660.87 2071.78L1656.45 2071.58L1652.03 2071.78L1647.61 2072.26L1643.19 2072.72L1638.77 2073.01L1634.36 2073.14L1629.94 2072.92L1625.52 2070.52L1621.1 2059.7Z"/><path d="M1702.6 2059.7L1707.1 2048.41L1711.6 2045.94L1716.1 2045.73L1720.6 2045.8L1725.1 2045.95L1729.6 2046.19L1734.1 2046.43L1738.6 2046.54L1743.1 2046.43L1747.6 2046.19L1752.1 2045.95L1756.6 2045.8L1761.1 2045.73L1765.6 2045.94L1770.1 2048.41L1774.6 2059.7L1774.6 2059.7L1770.1 2070.99L1765.6 2073.46L1761.1 2073.67L1756.6 2073.6L1752.1 2073.45L1747.6 2073.21L1743.1 2072.97L1738.6 2072.86L1734.1 2072.97L1729.6 2073.21L1725.1 2073.45L1720.6 2073.6L1716.1 2073.67L1711.6 2073.46L1707.1 2070.99L1702.6 2059.7Z"/><path d="M1790.2 2059.7L1795.14 2048.43L1800.09 2046.28L1805.03 2046.26L1809.97 2046.39L1814.92 2046.68L1819.86 2047.14L1824.81 2047.62L1829.75 2047.82L1834.69 2047.62L1839.64 2047.14L1844.58 2046.68L1849.53 2046.39L1854.47 2046.26L1859.41 2046.28L1864.36 2048.43L1869.3 2059.7L1869.3 2059.7L1864.36 2070.97L1859.41 2073.12L1854.47 2073.14L1849.53 2073.01L1844.58 2072.72L1839.64 2072.26L1834.69 2071.78L1829.75 2071.58L1824.81 2071.78L1819.86 2072.26L1814.92 2072.72L1809.97 2073.01L1805.03 2073.14L1800.09 2073.12L1795.14 2070.97L1790.2 2059.7Z"/></g></g>
<g clip-path="url(#c12)"><rect x="1940.3" y="1750.8" width="357.3" height="61.2" fill="url(#g12)"/><use href="#s12" filter="url(#bh)" opacity="0.2"/><g id="s12" filter="url(#b20)"><path d="M1952.8 1783.9L1956.92 1777.69L1961.04 1776.75L1965.16 1776.82L1969.28 1776.91L1973.39 1777.02L1977.51 1777.14L1981.63 1777.28L1985.75 1777.42L1989.87 1777.56L1993.99 1777.7L1998.11 1777.82L2002.22 1777.93L2006.34 1778.02L2010.46 1778.09L2014.58 1778.91L2018.7 1783.9L2018.7 1783.9L2014.58 1788.89L2010.46 1789.71L2006.34 1789.78L2002.22 1789.87L1998.11 1789.98L1993.99 1790.1L1989.87 1790.24L1985.75 1790.38L1981.63 1790.52L1977.51 1790.66L1973.39 1790.78L1969.28 1790.89L1965.16 1790.98L1961.04 1791.05L1956.92 1790.11L1952.8 1783.9Z"/><path d="M2036.7 1783.9L2040.74 1778.22L2044.79 1777.55L2048.83 1777.55L2052.88 1777.55L2056.92 1777.55L2060.96 1777.55L2065.01 1777.55L2069.05 1777.55L2073.09 1777.55L2077.14 1777.55L2081.18 1777.55L2085.22 1777.55L2089.27 1777.55L2093.31 1777.55L2097.36 1778.22L2101.4 1783.9L2101.4 1783.9L2097.36 1789.58L2093.31 1790.25L2089.27 1790.25L2085.22 1790.25L2081.18 1790.25L2077.14 1790.25L2073.09 1790.25L2069.05 1790.25L2065.01 1790.25L2060.96 1790.25L2056.92 1790.25L2052.88 1790.25L2048.83 1790.25L2044.79 1790.25L2040.74 1789.58L2036.7 1783.9Z"/><path d="M2120.6 1785.9L2124.8 1782.57L2129 1782.21L2133.2 1782.1L2137.4 1781.95L2141.6 1781.77L2145.8 1781.56L2150 1781.33L2154.2 1781.1L2158.4 1780.87L2162.6 1780.64L2166.8 1780.43L2171 1780.25L2175.2 1780.1L2179.4 1779.99L2183.6 1780.4L2187.8 1785.9L2187.8 1785.9L2183.6 1791.4L2179.4 1791.81L2175.2 1791.7L2171 1791.55L2166.8 1791.37L2162.6 1791.16L2158.4 1790.93L2154.2 1790.7L2150 1790.47L2145.8 1790.24L2141.6 1790.03L2137.4 1789.85L2133.2 1789.7L2129 1789.59L2124.8 1789.23L2120.6 1785.9Z" fill-opacity="0.6"/><path d="M2150 1786.2L2152.36 1781.46L2154.72 1780.16L2157.09 1779.71L2159.45 1779.7L2161.81 1779.7L2164.18 1779.7L2166.54 1779.7L2168.9 1779.7L2171.26 1779.7L2173.62 1779.7L2175.99 1779.7L2178.35 1779.7L2180.71 1779.71L2183.08 1780.16L2185.44 1781.46L2187.8 1786.2L2187.8 1786.2L2185.44 1790.94L2183.08 1792.24L2180.71 1792.69L2178.35 1792.7L2175.99 1792.7L2173.62 1792.7L2171.26 1792.7L2168.9 1792.7L2166.54 1792.7L2164.18 1792.7L2161.81 1792.7L2159.45 1792.7L2157.09 1792.69L2154.72 1792.24L2152.36 1790.94L2150 1786.2Z" fill-opacity="0.9"/><path d="M2204.6 1786.8L2209.09 1781.93L2213.59 1781.86L2218.08 1781.93L2222.57 1782.02L2227.07 1782.13L2231.56 1782.26L2236.06 1782.4L2240.55 1782.55L2245.04 1782.7L2249.54 1782.84L2254.03 1782.97L2258.53 1783.08L2263.02 1783.17L2267.51 1783.24L2272.01 1783.37L2276.5 1786.8L2276.5 1786.8L2272.01 1790.23L2267.51 1790.36L2263.02 1790.43L2258.53 1790.52L2254.03 1790.63L2249.54 1790.76L2245.04 1790.9L2240.55 1791.05L2236.06 1791.2L2231.56 1791.34L2227.07 1791.47L2222.57 1791.58L2218.08 1791.67L2213.59 1791.74L2209.09 1791.67L2204.6 1786.8Z" fill-opacity="0.5"/><path d="M2206 1786.5L2208.12 1782.62L2210.25 1781.67L2212.38 1781.5L2214.5 1781.5L2216.62 1781.5L2218.75 1781.5L2220.88 1781.5L2223 1781.5L2225.12 1781.5L2227.25 1781.5L2229.38 1781.5L2231.5 1781.5L2233.62 1781.5L2235.75 1781.67L2237.88 1782.62L2240 1786.5L2240 1786.5L2237.88 1790.38L2235.75 1791.33L2233.62 1791.5L2231.5 1791.5L2229.38 1791.5L2227.25 1791.5L2225.12 1791.5L2223 1791.5L2220.88 1791.5L2218.75 1791.5L2216.62 1791.5L2214.5 1791.5L2212.38 1791.5L2210.25 1791.33L2208.12 1790.38L2206 1786.5Z" fill-opacity="0.35"/></g></g>
<g clip-path="url(#c13)"><rect x="1940.3" y="1844.6" width="357.3" height="68.1" fill="url(#g13)"/><use href="#s13" filter="url(#bh)" opacity="0.25"/><g id="s13" filter="url(#b20)"><path d="M1948 1878.7L1952.49 1871.6L1956.99 1870.32L1961.48 1870.3L1965.97 1870.3L1970.47 1870.3L1974.96 1870.3L1979.46 1870.3L1983.95 1870.3L1988.44 1870.3L1992.94 1870.3L1997.43 1870.3L2001.93 1870.3L2006.42 1870.3L2010.91 1870.32L2015.41 1871.6L2019.9 1878.7L2019.9 1878.7L2015.41 1885.8L2010.91 1887.08L2006.42 1887.1L2001.93 1887.1L1997.43 1887.1L1992.94 1887.1L1988.44 1887.1L1983.95 1887.1L1979.46 1887.1L1974.96 1887.1L1970.47 1887.1L1965.97 1887.1L1961.48 1887.1L1956.99 1887.08L1952.49 1885.8L1948 1878.7Z"/><path d="M2035.5 1879.4L2039.84 1872.72L2044.19 1871.6L2048.53 1871.6L2052.88 1871.6L2057.22 1871.6L2061.56 1871.6L2065.91 1871.6L2070.25 1871.6L2074.59 1871.6L2078.94 1871.6L2083.28 1871.6L2087.62 1871.6L2091.97 1871.6L2096.31 1871.6L2100.66 1872.72L2105 1879.4L2105 1879.4L2100.66 1886.08L2096.31 1887.2L2091.97 1887.2L2087.62 1887.2L2083.28 1887.2L2078.94 1887.2L2074.59 1887.2L2070.25 1887.2L2065.91 1887.2L2061.56 1887.2L2057.22 1887.2L2052.88 1887.2L2048.53 1887.2L2044.19 1887.2L2039.84 1886.08L2035.5 1879.4Z"/><path d="M2119.4 1879.4L2123.9 1872.11L2128.4 1870.7L2132.9 1870.65L2137.4 1870.65L2141.9 1870.65L2146.4 1870.65L2150.9 1870.65L2155.4 1870.65L2159.9 1870.65L2164.4 1870.65L2168.9 1870.65L2173.4 1870.65L2177.9 1870.65L2182.4 1870.7L2186.9 1872.11L2191.4 1879.4L2191.4 1879.4L2186.9 1886.69L2182.4 1888.1L2177.9 1888.15L2173.4 1888.15L2168.9 1888.15L2164.4 1888.15L2159.9 1888.15L2155.4 1888.15L2150.9 1888.15L2146.4 1888.15L2141.9 1888.15L2137.4 1888.15L2132.9 1888.15L2128.4 1888.1L2123.9 1886.69L2119.4 1879.4Z"/><path d="M2207 1881.5L2211.64 1875.42L2216.29 1874.9L2220.93 1874.9L2225.57 1874.9L2230.22 1874.9L2234.86 1874.9L2239.51 1874.9L2244.15 1874.9L2248.79 1874.9L2253.44 1874.9L2258.08 1874.9L2262.73 1874.9L2267.37 1874.9L2272.01 1874.9L2276.66 1875.42L2281.3 1881.5L2281.3 1881.5L2276.66 1887.58L2272.01 1888.1L2267.37 1888.1L2262.73 1888.1L2258.08 1888.1L2253.44 1888.1L2248.79 1888.1L2244.15 1888.1L2239.51 1888.1L2234.86 1888.1L2230.22 1888.1L2225.57 1888.1L2220.93 1888.1L2216.29 1888.1L2211.64 1887.58L2207 1881.5Z"/></g></g>
<g clip-path="url(#c14)"><rect x="1940.3" y="1938.3" width="357.3" height="64.4" fill="url(#g14)"/><use href="#s14" filter="url(#bh)" opacity="0.2"/><g id="s14" filter="url(#b40)"><path d="M1952.8 1966.2L1956.54 1959.76L1960.29 1958.34L1964.03 1958.2L1967.78 1958.2L1971.52 1958.2L1975.26 1958.2L1979.01 1958.2L1982.75 1958.2L1986.49 1958.2L1990.24 1958.2L1993.98 1958.2L1997.72 1958.2L2001.47 1958.2L2005.21 1958.34L2008.96 1959.76L2012.7 1966.2L2012.7 1966.2L2008.96 1972.64L2005.21 1974.06L2001.47 1974.2L1997.72 1974.2L1993.98 1974.2L1990.24 1974.2L1986.49 1974.2L1982.75 1974.2L1979.01 1974.2L1975.26 1974.2L1971.52 1974.2L1967.78 1974.2L1964.03 1974.2L1960.29 1974.06L1956.54 1972.64L1952.8 1966.2Z" fill-opacity="0.5"/><path d="M2036.7 1966.7L2039.99 1960.57L2043.29 1959.03L2046.58 1958.7L2049.88 1958.7L2053.17 1958.7L2056.46 1958.7L2059.76 1958.7L2063.05 1958.7L2066.34 1958.7L2069.64 1958.7L2072.93 1958.7L2076.22 1958.7L2079.52 1958.7L2082.81 1959.03L2086.11 1960.57L2089.4 1966.7L2089.4 1966.7L2086.11 1972.83L2082.81 1974.37L2079.52 1974.7L2076.22 1974.7L2072.93 1974.7L2069.64 1974.7L2066.34 1974.7L2063.05 1974.7L2059.76 1974.7L2056.46 1974.7L2053.17 1974.7L2049.88 1974.7L2046.58 1974.7L2043.29 1974.37L2039.99 1972.83L2036.7 1966.7Z" fill-opacity="0.55"/><path d="M2118.2 1966.7L2121.8 1960.35L2125.4 1958.89L2129 1958.7L2132.6 1958.7L2136.2 1958.7L2139.8 1958.7L2143.4 1958.7L2147 1958.7L2150.6 1958.7L2154.2 1958.7L2157.8 1958.7L2161.4 1958.7L2165 1958.7L2168.6 1958.89L2172.2 1960.35L2175.8 1966.7L2175.8 1966.7L2172.2 1973.05L2168.6 1974.51L2165 1974.7L2161.4 1974.7L2157.8 1974.7L2154.2 1974.7L2150.6 1974.7L2147 1974.7L2143.4 1974.7L2139.8 1974.7L2136.2 1974.7L2132.6 1974.7L2129 1974.7L2125.4 1974.51L2121.8 1973.05L2118.2 1966.7Z" fill-opacity="0.55"/><path d="M2202.2 1971L2206.84 1964.35L2211.49 1963.5L2216.13 1963.5L2220.77 1963.5L2225.42 1963.5L2230.06 1963.5L2234.71 1963.5L2239.35 1963.5L2243.99 1963.5L2248.64 1963.5L2253.28 1963.5L2257.93 1963.5L2262.57 1963.5L2267.21 1963.5L2271.86 1964.35L2276.5 1971L2276.5 1971L2271.86 1977.65L2267.21 1978.5L2262.57 1978.5L2257.93 1978.5L2253.28 1978.5L2248.64 1978.5L2243.99 1978.5L2239.35 1978.5L2234.71 1978.5L2230.06 1978.5L2225.42 1978.5L2220.77 1978.5L2216.13 1978.5L2211.49 1978.5L2206.84 1977.65L2202.2 1971Z" fill-opacity="0.4"/></g></g>
<g clip-path="url(#c15)"><rect x="1940.3" y="2029" width="357.3" height="63.5" fill="url(#g15)"/><use href="#s15" filter="url(#bh)" opacity="0.25"/><g id="s15" filter="url(#b20)"><path d="M1946.8 2062.1L1951.37 2053.45L1955.94 2051.24L1960.51 2050.7L1965.08 2050.7L1969.64 2050.7L1974.21 2050.7L1978.78 2050.7L1983.35 2050.7L1987.92 2050.7L1992.49 2050.7L1997.06 2050.7L2001.62 2050.7L2006.19 2050.7L2010.76 2051.24L2015.33 2053.45L2019.9 2062.1L2019.9 2062.1L2015.33 2070.75L2010.76 2072.96L2006.19 2073.5L2001.62 2073.5L1997.06 2073.5L1992.49 2073.5L1987.92 2073.5L1983.35 2073.5L1978.78 2073.5L1974.21 2073.5L1969.64 2073.5L1965.08 2073.5L1960.51 2073.5L1955.94 2072.96L1951.37 2070.75L1946.8 2062.1Z"/><path d="M2034.3 2062.1L2038.79 2053.79L2043.29 2051.72L2047.78 2051.3L2052.28 2051.3L2056.77 2051.3L2061.26 2051.3L2065.76 2051.3L2070.25 2051.3L2074.74 2051.3L2079.24 2051.3L2083.73 2051.3L2088.22 2051.3L2092.72 2051.3L2097.21 2051.72L2101.71 2053.79L2106.2 2062.1L2106.2 2062.1L2101.71 2070.41L2097.21 2072.48L2092.72 2072.9L2088.22 2072.9L2083.73 2072.9L2079.24 2072.9L2074.74 2072.9L2070.25 2072.9L2065.76 2072.9L2061.26 2072.9L2056.77 2072.9L2052.28 2072.9L2047.78 2072.9L2043.29 2072.48L2038.79 2070.41L2034.3 2062.1Z"/><path d="M2118.2 2062.8L2122.77 2054.43L2127.35 2052.38L2131.92 2052L2136.5 2052L2141.07 2052L2145.65 2052L2150.22 2052L2154.8 2052L2159.38 2052L2163.95 2052L2168.53 2052L2173.1 2052L2177.68 2052L2182.25 2052.38L2186.83 2054.43L2191.4 2062.8L2191.4 2062.8L2186.83 2071.17L2182.25 2073.22L2177.68 2073.6L2173.1 2073.6L2168.53 2073.6L2163.95 2073.6L2159.38 2073.6L2154.8 2073.6L2150.22 2073.6L2145.65 2073.6L2141.07 2073.6L2136.5 2073.6L2131.92 2073.6L2127.35 2073.22L2122.77 2071.17L2118.2 2062.8Z"/><path d="M2205.8 2065.7L2210.52 2057.62L2215.24 2055.86L2219.96 2055.7L2224.68 2055.7L2229.39 2055.7L2234.11 2055.7L2238.83 2055.7L2243.55 2055.7L2248.27 2055.7L2252.99 2055.7L2257.71 2055.7L2262.43 2055.7L2267.14 2055.7L2271.86 2055.86L2276.58 2057.62L2281.3 2065.7L2281.3 2065.7L2276.58 2073.78L2271.86 2075.54L2267.14 2075.7L2262.43 2075.7L2257.71 2075.7L2252.99 2075.7L2248.27 2075.7L2243.55 2075.7L2238.83 2075.7L2234.11 2075.7L2229.39 2075.7L2224.68 2075.7L2219.96 2075.7L2215.24 2075.54L2210.52 2073.78L2205.8 2065.7Z"/></g></g>
</svg>
</body>
</html>
